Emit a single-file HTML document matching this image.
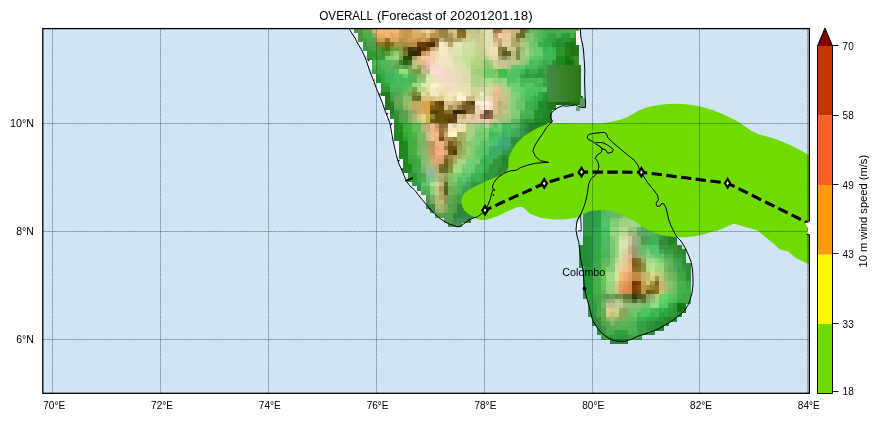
<!DOCTYPE html>
<html><head><meta charset="utf-8"><title>OVERALL forecast</title>
<style>html,body{margin:0;padding:0;background:#fff}body{width:880px;height:421px;overflow:hidden;font-family:"Liberation Sans",sans-serif}</style></head>
<body>
<svg width="880" height="421" viewBox="0 0 880 421" style="display:block;font-family:'Liberation Sans',sans-serif">
<defs><linearGradient id="dk" x1="0" x2="1" y1="0" y2="0"><stop offset="0" stop-color="#488a42"/><stop offset="0.5" stop-color="#388226"/><stop offset="1" stop-color="#2a7616"/></linearGradient><clipPath id="fc"><rect x="42.8" y="28.6" width="766.5" height="364.7"/></clipPath></defs>
<rect width="880" height="421" fill="#fff"/>
<rect x="42.8" y="28.6" width="766.5" height="364.7" fill="#cfe5f5"/>
<g clip-path="url(#fc)">
<g shape-rendering="crispEdges"><rect x="345.0" y="24.2" width="4.6" height="4.6" fill="#f2f8fd"/><rect x="349.4" y="24.2" width="4.6" height="4.6" fill="#f2f8fd"/><rect x="353.9" y="24.2" width="4.6" height="4.6" fill="#459a3e"/><rect x="358.4" y="24.2" width="4.6" height="4.6" fill="#4d9e40"/><rect x="362.9" y="24.2" width="4.6" height="4.6" fill="#63a946"/><rect x="367.4" y="24.2" width="4.6" height="4.6" fill="#68a947"/><rect x="371.9" y="24.2" width="4.6" height="4.6" fill="#ceb462"/><rect x="376.4" y="24.2" width="4.6" height="4.6" fill="#f5b86b"/><rect x="380.9" y="24.2" width="4.6" height="4.6" fill="#f5b86c"/><rect x="385.4" y="24.2" width="4.6" height="4.6" fill="#f3b56a"/><rect x="389.9" y="24.2" width="4.6" height="4.6" fill="#f0b76c"/><rect x="394.4" y="24.2" width="4.6" height="4.6" fill="#eeb66b"/><rect x="398.9" y="24.2" width="4.6" height="4.6" fill="#d6a354"/><rect x="403.3" y="24.2" width="4.6" height="4.6" fill="#ca9745"/><rect x="407.8" y="24.2" width="4.6" height="4.6" fill="#ce9d4e"/><rect x="412.3" y="24.2" width="4.6" height="4.6" fill="#ddaf65"/><rect x="416.8" y="24.2" width="4.6" height="4.6" fill="#deb167"/><rect x="421.3" y="24.2" width="4.6" height="4.6" fill="#e9c885"/><rect x="425.8" y="24.2" width="4.6" height="4.6" fill="#efd392"/><rect x="430.3" y="24.2" width="4.6" height="4.6" fill="#e3c481"/><rect x="434.8" y="24.2" width="4.6" height="4.6" fill="#c4a15a"/><rect x="439.3" y="24.2" width="4.6" height="4.6" fill="#a28743"/><rect x="443.8" y="24.2" width="4.6" height="4.6" fill="#9c8441"/><rect x="448.3" y="24.2" width="4.6" height="4.6" fill="#c6ac70"/><rect x="452.8" y="24.2" width="4.6" height="4.6" fill="#d6bc82"/><rect x="457.2" y="24.2" width="4.6" height="4.6" fill="#9d8844"/><rect x="461.7" y="24.2" width="4.6" height="4.6" fill="#8f7f39"/><rect x="466.2" y="24.2" width="4.6" height="4.6" fill="#c3bd84"/><rect x="470.7" y="24.2" width="4.6" height="4.6" fill="#c7c18a"/><rect x="475.2" y="24.2" width="4.6" height="4.6" fill="#c5bd86"/><rect x="479.7" y="24.2" width="4.6" height="4.6" fill="#d8cf9d"/><rect x="484.2" y="24.2" width="4.6" height="4.6" fill="#e7deaf"/><rect x="488.7" y="24.2" width="4.6" height="4.6" fill="#dbcd9d"/><rect x="493.2" y="24.2" width="4.6" height="4.6" fill="#9e7b44"/><rect x="497.7" y="24.2" width="4.6" height="4.6" fill="#a5814a"/><rect x="502.2" y="24.2" width="4.6" height="4.6" fill="#dcb780"/><rect x="506.7" y="24.2" width="4.6" height="4.6" fill="#ddb982"/><rect x="511.1" y="24.2" width="4.6" height="4.6" fill="#ccb179"/><rect x="515.6" y="24.2" width="4.6" height="4.6" fill="#c2aa71"/><rect x="520.1" y="24.2" width="4.6" height="4.6" fill="#8e8c4b"/><rect x="524.6" y="24.2" width="4.6" height="4.6" fill="#709d4e"/><rect x="529.1" y="24.2" width="4.6" height="4.6" fill="#63ba5f"/><rect x="533.6" y="24.2" width="4.6" height="4.6" fill="#62bb5f"/><rect x="538.1" y="24.2" width="4.6" height="4.6" fill="#4db656"/><rect x="542.6" y="24.2" width="4.6" height="4.6" fill="#3db24f"/><rect x="547.1" y="24.2" width="4.6" height="4.6" fill="#3db24e"/><rect x="551.6" y="24.2" width="4.6" height="4.6" fill="#42b04d"/><rect x="556.1" y="24.2" width="4.6" height="4.6" fill="#45b24e"/><rect x="560.6" y="24.2" width="4.6" height="4.6" fill="#45b14d"/><rect x="565.0" y="24.2" width="4.6" height="4.6" fill="#4bb04c"/><rect x="569.5" y="24.2" width="4.6" height="4.6" fill="#4eb24e"/><rect x="574.0" y="24.2" width="4.6" height="4.6" fill="#4db14d"/><rect x="349.4" y="28.7" width="4.6" height="4.6" fill="#f2f8fd"/><rect x="353.9" y="28.7" width="4.6" height="4.6" fill="#459a3e"/><rect x="358.4" y="28.7" width="4.6" height="4.6" fill="#489b3f"/><rect x="362.9" y="28.7" width="4.6" height="4.6" fill="#63a946"/><rect x="367.4" y="28.7" width="4.6" height="4.6" fill="#64a946"/><rect x="371.9" y="28.7" width="4.6" height="4.6" fill="#d7b565"/><rect x="376.4" y="28.7" width="4.6" height="4.6" fill="#f8b96b"/><rect x="380.9" y="28.7" width="4.6" height="4.6" fill="#f6b96d"/><rect x="385.4" y="28.7" width="4.6" height="4.6" fill="#f5b46a"/><rect x="389.9" y="28.7" width="4.6" height="4.6" fill="#f1b96e"/><rect x="394.4" y="28.7" width="4.6" height="4.6" fill="#f0b96e"/><rect x="398.9" y="28.7" width="4.6" height="4.6" fill="#d39f50"/><rect x="403.3" y="28.7" width="4.6" height="4.6" fill="#c99644"/><rect x="407.8" y="28.7" width="4.6" height="4.6" fill="#ca9846"/><rect x="412.3" y="28.7" width="4.6" height="4.6" fill="#dfb167"/><rect x="416.8" y="28.7" width="4.6" height="4.6" fill="#dfb167"/><rect x="421.3" y="28.7" width="4.6" height="4.6" fill="#e9c885"/><rect x="425.8" y="28.7" width="4.6" height="4.6" fill="#f1d594"/><rect x="430.3" y="28.7" width="4.6" height="4.6" fill="#d9b973"/><rect x="434.8" y="28.7" width="4.6" height="4.6" fill="#c49f56"/><rect x="439.3" y="28.7" width="4.6" height="4.6" fill="#9c833f"/><rect x="443.8" y="28.7" width="4.6" height="4.6" fill="#9a813e"/><rect x="448.3" y="28.7" width="4.6" height="4.6" fill="#d2b77d"/><rect x="452.8" y="28.7" width="4.6" height="4.6" fill="#dfc38c"/><rect x="457.2" y="28.7" width="4.6" height="4.6" fill="#7f6d23"/><rect x="461.7" y="28.7" width="4.6" height="4.6" fill="#7e6d23"/><rect x="466.2" y="28.7" width="4.6" height="4.6" fill="#c7c28b"/><rect x="470.7" y="28.7" width="4.6" height="4.6" fill="#c8c48d"/><rect x="475.2" y="28.7" width="4.6" height="4.6" fill="#c4bb84"/><rect x="479.7" y="28.7" width="4.6" height="4.6" fill="#d6ce9b"/><rect x="484.2" y="28.7" width="4.6" height="4.6" fill="#e8dfb0"/><rect x="488.7" y="28.7" width="4.6" height="4.6" fill="#e4daab"/><rect x="493.2" y="28.7" width="4.6" height="4.6" fill="#9a763e"/><rect x="497.7" y="28.7" width="4.6" height="4.6" fill="#a07c45"/><rect x="502.2" y="28.7" width="4.6" height="4.6" fill="#dfba83"/><rect x="506.7" y="28.7" width="4.6" height="4.6" fill="#dfba83"/><rect x="511.1" y="28.7" width="4.6" height="4.6" fill="#ccb17a"/><rect x="515.6" y="28.7" width="4.6" height="4.6" fill="#cbb078"/><rect x="520.1" y="28.7" width="4.6" height="4.6" fill="#686e2a"/><rect x="524.6" y="28.7" width="4.6" height="4.6" fill="#6d8b40"/><rect x="529.1" y="28.7" width="4.6" height="4.6" fill="#62bb60"/><rect x="533.6" y="28.7" width="4.6" height="4.6" fill="#62bb60"/><rect x="538.1" y="28.7" width="4.6" height="4.6" fill="#4bb755"/><rect x="542.6" y="28.7" width="4.6" height="4.6" fill="#3cb24e"/><rect x="547.1" y="28.7" width="4.6" height="4.6" fill="#3cb24e"/><rect x="551.6" y="28.7" width="4.6" height="4.6" fill="#40ae4b"/><rect x="556.1" y="28.7" width="4.6" height="4.6" fill="#45b24e"/><rect x="560.6" y="28.7" width="4.6" height="4.6" fill="#44b14d"/><rect x="565.0" y="28.7" width="4.6" height="4.6" fill="#4aaf4b"/><rect x="569.5" y="28.7" width="4.6" height="4.6" fill="#4eb24e"/><rect x="574.0" y="28.7" width="4.6" height="4.6" fill="#4eb24e"/><rect x="353.9" y="33.2" width="4.6" height="4.6" fill="#f2f8fd"/><rect x="358.4" y="33.2" width="4.6" height="4.6" fill="#469a40"/><rect x="362.9" y="33.2" width="4.6" height="4.6" fill="#5ca646"/><rect x="367.4" y="33.2" width="4.6" height="4.6" fill="#53a94e"/><rect x="371.9" y="33.2" width="4.6" height="4.6" fill="#83ac56"/><rect x="376.4" y="33.2" width="4.6" height="4.6" fill="#edb165"/><rect x="380.9" y="33.2" width="4.6" height="4.6" fill="#e6ac62"/><rect x="385.4" y="33.2" width="4.6" height="4.6" fill="#f5b469"/><rect x="389.9" y="33.2" width="4.6" height="4.6" fill="#e1aa60"/><rect x="394.4" y="33.2" width="4.6" height="4.6" fill="#e5af65"/><rect x="398.9" y="33.2" width="4.6" height="4.6" fill="#d2a154"/><rect x="403.3" y="33.2" width="4.6" height="4.6" fill="#c99644"/><rect x="407.8" y="33.2" width="4.6" height="4.6" fill="#cb9c4f"/><rect x="412.3" y="33.2" width="4.6" height="4.6" fill="#d9ab61"/><rect x="416.8" y="33.2" width="4.6" height="4.6" fill="#dbad63"/><rect x="421.3" y="33.2" width="4.6" height="4.6" fill="#cda057"/><rect x="425.8" y="33.2" width="4.6" height="4.6" fill="#e0be7b"/><rect x="430.3" y="33.2" width="4.6" height="4.6" fill="#b7944e"/><rect x="434.8" y="33.2" width="4.6" height="4.6" fill="#b5914a"/><rect x="439.3" y="33.2" width="4.6" height="4.6" fill="#9f8542"/><rect x="443.8" y="33.2" width="4.6" height="4.6" fill="#9c8644"/><rect x="448.3" y="33.2" width="4.6" height="4.6" fill="#ae995c"/><rect x="452.8" y="33.2" width="4.6" height="4.6" fill="#d2b97e"/><rect x="457.2" y="33.2" width="4.6" height="4.6" fill="#8a7931"/><rect x="461.7" y="33.2" width="4.6" height="4.6" fill="#84742b"/><rect x="466.2" y="33.2" width="4.6" height="4.6" fill="#cacc91"/><rect x="470.7" y="33.2" width="4.6" height="4.6" fill="#c9c78e"/><rect x="475.2" y="33.2" width="4.6" height="4.6" fill="#c8c78c"/><rect x="479.7" y="33.2" width="4.6" height="4.6" fill="#d0cc95"/><rect x="484.2" y="33.2" width="4.6" height="4.6" fill="#e4dfb0"/><rect x="488.7" y="33.2" width="4.6" height="4.6" fill="#e3deb0"/><rect x="493.2" y="33.2" width="4.6" height="4.6" fill="#c4a272"/><rect x="497.7" y="33.2" width="4.6" height="4.6" fill="#f1cca6"/><rect x="502.2" y="33.2" width="4.6" height="4.6" fill="#e9c699"/><rect x="506.7" y="33.2" width="4.6" height="4.6" fill="#e8cc9e"/><rect x="511.1" y="33.2" width="4.6" height="4.6" fill="#c8b27c"/><rect x="515.6" y="33.2" width="4.6" height="4.6" fill="#76742f"/><rect x="520.1" y="33.2" width="4.6" height="4.6" fill="#646b26"/><rect x="524.6" y="33.2" width="4.6" height="4.6" fill="#83bb6a"/><rect x="529.1" y="33.2" width="4.6" height="4.6" fill="#7ec26e"/><rect x="533.6" y="33.2" width="4.6" height="4.6" fill="#5cbb5d"/><rect x="538.1" y="33.2" width="4.6" height="4.6" fill="#4ebb57"/><rect x="542.6" y="33.2" width="4.6" height="4.6" fill="#3fb34f"/><rect x="547.1" y="33.2" width="4.6" height="4.6" fill="#36a643"/><rect x="551.6" y="33.2" width="4.6" height="4.6" fill="#32a03e"/><rect x="556.1" y="33.2" width="4.6" height="4.6" fill="#43b04c"/><rect x="560.6" y="33.2" width="4.6" height="4.6" fill="#319c38"/><rect x="565.0" y="33.2" width="4.6" height="4.6" fill="#2f9a36"/><rect x="569.5" y="33.2" width="4.6" height="4.6" fill="#49ad4a"/><rect x="574.0" y="33.2" width="4.6" height="4.6" fill="#3a9f3b"/><rect x="353.9" y="37.8" width="4.6" height="4.6" fill="#f2f8fd"/><rect x="358.4" y="37.8" width="4.6" height="4.6" fill="#459a40"/><rect x="362.9" y="37.8" width="4.6" height="4.6" fill="#479d43"/><rect x="367.4" y="37.8" width="4.6" height="4.6" fill="#51a94f"/><rect x="371.9" y="37.8" width="4.6" height="4.6" fill="#56a64d"/><rect x="376.4" y="37.8" width="4.6" height="4.6" fill="#c99e53"/><rect x="380.9" y="37.8" width="4.6" height="4.6" fill="#cf9f54"/><rect x="385.4" y="37.8" width="4.6" height="4.6" fill="#917227"/><rect x="389.9" y="37.8" width="4.6" height="4.6" fill="#dda75d"/><rect x="394.4" y="37.8" width="4.6" height="4.6" fill="#daa85e"/><rect x="398.9" y="37.8" width="4.6" height="4.6" fill="#b1924a"/><rect x="403.3" y="37.8" width="4.6" height="4.6" fill="#bd964c"/><rect x="407.8" y="37.8" width="4.6" height="4.6" fill="#cd9f55"/><rect x="412.3" y="37.8" width="4.6" height="4.6" fill="#cb9e55"/><rect x="416.8" y="37.8" width="4.6" height="4.6" fill="#bd914b"/><rect x="421.3" y="37.8" width="4.6" height="4.6" fill="#cd9f55"/><rect x="425.8" y="37.8" width="4.6" height="4.6" fill="#b48843"/><rect x="430.3" y="37.8" width="4.6" height="4.6" fill="#815e20"/><rect x="434.8" y="37.8" width="4.6" height="4.6" fill="#886425"/><rect x="439.3" y="37.8" width="4.6" height="4.6" fill="#c3af7c"/><rect x="443.8" y="37.8" width="4.6" height="4.6" fill="#a18f50"/><rect x="448.3" y="37.8" width="4.6" height="4.6" fill="#a18f50"/><rect x="452.8" y="37.8" width="4.6" height="4.6" fill="#b3a662"/><rect x="457.2" y="37.8" width="4.6" height="4.6" fill="#b2a561"/><rect x="461.7" y="37.8" width="4.6" height="4.6" fill="#c4c688"/><rect x="466.2" y="37.8" width="4.6" height="4.6" fill="#cdd296"/><rect x="470.7" y="37.8" width="4.6" height="4.6" fill="#ccd195"/><rect x="475.2" y="37.8" width="4.6" height="4.6" fill="#c9ca8e"/><rect x="479.7" y="37.8" width="4.6" height="4.6" fill="#cecf95"/><rect x="484.2" y="37.8" width="4.6" height="4.6" fill="#e3dfb0"/><rect x="488.7" y="37.8" width="4.6" height="4.6" fill="#e4deb0"/><rect x="493.2" y="37.8" width="4.6" height="4.6" fill="#cfb17d"/><rect x="497.7" y="37.8" width="4.6" height="4.6" fill="#c9a570"/><rect x="502.2" y="37.8" width="4.6" height="4.6" fill="#dec998"/><rect x="506.7" y="37.8" width="4.6" height="4.6" fill="#e1cb9a"/><rect x="511.1" y="37.8" width="4.6" height="4.6" fill="#b4aa6b"/><rect x="515.6" y="37.8" width="4.6" height="4.6" fill="#8e8c48"/><rect x="520.1" y="37.8" width="4.6" height="4.6" fill="#9cbb72"/><rect x="524.6" y="37.8" width="4.6" height="4.6" fill="#87c371"/><rect x="529.1" y="37.8" width="4.6" height="4.6" fill="#81c471"/><rect x="533.6" y="37.8" width="4.6" height="4.6" fill="#64c067"/><rect x="538.1" y="37.8" width="4.6" height="4.6" fill="#4ebb57"/><rect x="542.6" y="37.8" width="4.6" height="4.6" fill="#36ac49"/><rect x="547.1" y="37.8" width="4.6" height="4.6" fill="#33a23f"/><rect x="551.6" y="37.8" width="4.6" height="4.6" fill="#32a03d"/><rect x="556.1" y="37.8" width="4.6" height="4.6" fill="#24912f"/><rect x="560.6" y="37.8" width="4.6" height="4.6" fill="#2d9834"/><rect x="565.0" y="37.8" width="4.6" height="4.6" fill="#2e9934"/><rect x="569.5" y="37.8" width="4.6" height="4.6" fill="#228825"/><rect x="574.0" y="37.8" width="4.6" height="4.6" fill="#228824"/><rect x="358.4" y="42.3" width="4.6" height="4.6" fill="#f2f8fd"/><rect x="362.9" y="42.3" width="4.6" height="4.6" fill="#409a3e"/><rect x="367.4" y="42.3" width="4.6" height="4.6" fill="#4ea147"/><rect x="371.9" y="42.3" width="4.6" height="4.6" fill="#4fa046"/><rect x="376.4" y="42.3" width="4.6" height="4.6" fill="#84792f"/><rect x="380.9" y="42.3" width="4.6" height="4.6" fill="#87762d"/><rect x="385.4" y="42.3" width="4.6" height="4.6" fill="#765e14"/><rect x="389.9" y="42.3" width="4.6" height="4.6" fill="#837325"/><rect x="394.4" y="42.3" width="4.6" height="4.6" fill="#ab9348"/><rect x="398.9" y="42.3" width="4.6" height="4.6" fill="#a98e46"/><rect x="403.3" y="42.3" width="4.6" height="4.6" fill="#a28740"/><rect x="407.8" y="42.3" width="4.6" height="4.6" fill="#b28e45"/><rect x="412.3" y="42.3" width="4.6" height="4.6" fill="#b08c44"/><rect x="416.8" y="42.3" width="4.6" height="4.6" fill="#613f0c"/><rect x="421.3" y="42.3" width="4.6" height="4.6" fill="#643c05"/><rect x="425.8" y="42.3" width="4.6" height="4.6" fill="#5a3201"/><rect x="430.3" y="42.3" width="4.6" height="4.6" fill="#522c00"/><rect x="434.8" y="42.3" width="4.6" height="4.6" fill="#977a4b"/><rect x="439.3" y="42.3" width="4.6" height="4.6" fill="#f5ecc7"/><rect x="443.8" y="42.3" width="4.6" height="4.6" fill="#e6dbb1"/><rect x="448.3" y="42.3" width="4.6" height="4.6" fill="#b7aa70"/><rect x="452.8" y="42.3" width="4.6" height="4.6" fill="#e2e6b7"/><rect x="457.2" y="42.3" width="4.6" height="4.6" fill="#e3e7b9"/><rect x="461.7" y="42.3" width="4.6" height="4.6" fill="#d1dfa3"/><rect x="466.2" y="42.3" width="4.6" height="4.6" fill="#d1dea1"/><rect x="470.7" y="42.3" width="4.6" height="4.6" fill="#d1de9e"/><rect x="475.2" y="42.3" width="4.6" height="4.6" fill="#c8d291"/><rect x="479.7" y="42.3" width="4.6" height="4.6" fill="#cad293"/><rect x="484.2" y="42.3" width="4.6" height="4.6" fill="#e4ddad"/><rect x="488.7" y="42.3" width="4.6" height="4.6" fill="#e8dfb0"/><rect x="493.2" y="42.3" width="4.6" height="4.6" fill="#decd9c"/><rect x="497.7" y="42.3" width="4.6" height="4.6" fill="#c4a069"/><rect x="502.2" y="42.3" width="4.6" height="4.6" fill="#ded09d"/><rect x="506.7" y="42.3" width="4.6" height="4.6" fill="#ded09d"/><rect x="511.1" y="42.3" width="4.6" height="4.6" fill="#b2a96a"/><rect x="515.6" y="42.3" width="4.6" height="4.6" fill="#abac6a"/><rect x="520.1" y="42.3" width="4.6" height="4.6" fill="#a8cd84"/><rect x="524.6" y="42.3" width="4.6" height="4.6" fill="#a1cb80"/><rect x="529.1" y="42.3" width="4.6" height="4.6" fill="#72c472"/><rect x="533.6" y="42.3" width="4.6" height="4.6" fill="#72c472"/><rect x="538.1" y="42.3" width="4.6" height="4.6" fill="#3bae4c"/><rect x="542.6" y="42.3" width="4.6" height="4.6" fill="#32a946"/><rect x="547.1" y="42.3" width="4.6" height="4.6" fill="#32aa46"/><rect x="551.6" y="42.3" width="4.6" height="4.6" fill="#279533"/><rect x="556.1" y="42.3" width="4.6" height="4.6" fill="#228e2d"/><rect x="560.6" y="42.3" width="4.6" height="4.6" fill="#228f2d"/><rect x="565.0" y="42.3" width="4.6" height="4.6" fill="#217b19"/><rect x="569.5" y="42.3" width="4.6" height="4.6" fill="#1f7615"/><rect x="574.0" y="42.3" width="4.6" height="4.6" fill="#217e1c"/><rect x="362.9" y="46.8" width="4.6" height="4.6" fill="#39a046"/><rect x="367.4" y="46.8" width="4.6" height="4.6" fill="#3aa046"/><rect x="371.9" y="46.8" width="4.6" height="4.6" fill="#4f9e43"/><rect x="376.4" y="46.8" width="4.6" height="4.6" fill="#529935"/><rect x="380.9" y="46.8" width="4.6" height="4.6" fill="#4a801f"/><rect x="385.4" y="46.8" width="4.6" height="4.6" fill="#427615"/><rect x="389.9" y="46.8" width="4.6" height="4.6" fill="#649935"/><rect x="394.4" y="46.8" width="4.6" height="4.6" fill="#669a36"/><rect x="398.9" y="46.8" width="4.6" height="4.6" fill="#899947"/><rect x="403.3" y="46.8" width="4.6" height="4.6" fill="#696927"/><rect x="407.8" y="46.8" width="4.6" height="4.6" fill="#413304"/><rect x="412.3" y="46.8" width="4.6" height="4.6" fill="#513a0b"/><rect x="416.8" y="46.8" width="4.6" height="4.6" fill="#412700"/><rect x="421.3" y="46.8" width="4.6" height="4.6" fill="#543304"/><rect x="425.8" y="46.8" width="4.6" height="4.6" fill="#794e1a"/><rect x="430.3" y="46.8" width="4.6" height="4.6" fill="#cba575"/><rect x="434.8" y="46.8" width="4.6" height="4.6" fill="#d4bb8e"/><rect x="439.3" y="46.8" width="4.6" height="4.6" fill="#f5ecc3"/><rect x="443.8" y="46.8" width="4.6" height="4.6" fill="#f3eac1"/><rect x="448.3" y="46.8" width="4.6" height="4.6" fill="#dfdead"/><rect x="452.8" y="46.8" width="4.6" height="4.6" fill="#e0e5b3"/><rect x="457.2" y="46.8" width="4.6" height="4.6" fill="#e0e5b3"/><rect x="461.7" y="46.8" width="4.6" height="4.6" fill="#cedfa0"/><rect x="466.2" y="46.8" width="4.6" height="4.6" fill="#cedf9f"/><rect x="470.7" y="46.8" width="4.6" height="4.6" fill="#c9dd96"/><rect x="475.2" y="46.8" width="4.6" height="4.6" fill="#c4d28d"/><rect x="479.7" y="46.8" width="4.6" height="4.6" fill="#c6d390"/><rect x="484.2" y="46.8" width="4.6" height="4.6" fill="#e2ddac"/><rect x="488.7" y="46.8" width="4.6" height="4.6" fill="#ece3b8"/><rect x="493.2" y="46.8" width="4.6" height="4.6" fill="#ece3b9"/><rect x="497.7" y="46.8" width="4.6" height="4.6" fill="#828042"/><rect x="502.2" y="46.8" width="4.6" height="4.6" fill="#767638"/><rect x="506.7" y="46.8" width="4.6" height="4.6" fill="#c9c592"/><rect x="511.1" y="46.8" width="4.6" height="4.6" fill="#c8c591"/><rect x="515.6" y="46.8" width="4.6" height="4.6" fill="#888e48"/><rect x="520.1" y="46.8" width="4.6" height="4.6" fill="#9dba73"/><rect x="524.6" y="46.8" width="4.6" height="4.6" fill="#a8d18c"/><rect x="529.1" y="46.8" width="4.6" height="4.6" fill="#7cc977"/><rect x="533.6" y="46.8" width="4.6" height="4.6" fill="#68cd71"/><rect x="538.1" y="46.8" width="4.6" height="4.6" fill="#62c96c"/><rect x="542.6" y="46.8" width="4.6" height="4.6" fill="#38b14e"/><rect x="547.1" y="46.8" width="4.6" height="4.6" fill="#3bbb57"/><rect x="551.6" y="46.8" width="4.6" height="4.6" fill="#37b24e"/><rect x="556.1" y="46.8" width="4.6" height="4.6" fill="#2b9630"/><rect x="560.6" y="46.8" width="4.6" height="4.6" fill="#2c9730"/><rect x="565.0" y="46.8" width="4.6" height="4.6" fill="#237d1a"/><rect x="569.5" y="46.8" width="4.6" height="4.6" fill="#227615"/><rect x="574.0" y="46.8" width="4.6" height="4.6" fill="#237615"/><rect x="362.9" y="51.3" width="4.6" height="4.6" fill="#f2f8fd"/><rect x="367.4" y="51.3" width="4.6" height="4.6" fill="#319b39"/><rect x="371.9" y="51.3" width="4.6" height="4.6" fill="#379a37"/><rect x="376.4" y="51.3" width="4.6" height="4.6" fill="#499934"/><rect x="380.9" y="51.3" width="4.6" height="4.6" fill="#3c952e"/><rect x="385.4" y="51.3" width="4.6" height="4.6" fill="#5e9c3b"/><rect x="389.9" y="51.3" width="4.6" height="4.6" fill="#79bb5b"/><rect x="394.4" y="51.3" width="4.6" height="4.6" fill="#92cb74"/><rect x="398.9" y="51.3" width="4.6" height="4.6" fill="#8aa14e"/><rect x="403.3" y="51.3" width="4.6" height="4.6" fill="#6a7b31"/><rect x="407.8" y="51.3" width="4.6" height="4.6" fill="#383004"/><rect x="412.3" y="51.3" width="4.6" height="4.6" fill="#302602"/><rect x="416.8" y="51.3" width="4.6" height="4.6" fill="#412801"/><rect x="421.3" y="51.3" width="4.6" height="4.6" fill="#ca9761"/><rect x="425.8" y="51.3" width="4.6" height="4.6" fill="#dea972"/><rect x="430.3" y="51.3" width="4.6" height="4.6" fill="#fad4a6"/><rect x="434.8" y="51.3" width="4.6" height="4.6" fill="#f3dbb0"/><rect x="439.3" y="51.3" width="4.6" height="4.6" fill="#f5ecc2"/><rect x="443.8" y="51.3" width="4.6" height="4.6" fill="#f4eac2"/><rect x="448.3" y="51.3" width="4.6" height="4.6" fill="#e3e3b4"/><rect x="452.8" y="51.3" width="4.6" height="4.6" fill="#dee3b0"/><rect x="457.2" y="51.3" width="4.6" height="4.6" fill="#dee3b0"/><rect x="461.7" y="51.3" width="4.6" height="4.6" fill="#ccdf9e"/><rect x="466.2" y="51.3" width="4.6" height="4.6" fill="#ccdf9d"/><rect x="470.7" y="51.3" width="4.6" height="4.6" fill="#c8df95"/><rect x="475.2" y="51.3" width="4.6" height="4.6" fill="#c4d38d"/><rect x="479.7" y="51.3" width="4.6" height="4.6" fill="#c3d38d"/><rect x="484.2" y="51.3" width="4.6" height="4.6" fill="#d9daa4"/><rect x="488.7" y="51.3" width="4.6" height="4.6" fill="#e8e1b4"/><rect x="493.2" y="51.3" width="4.6" height="4.6" fill="#e9e0b4"/><rect x="497.7" y="51.3" width="4.6" height="4.6" fill="#8a884c"/><rect x="502.2" y="51.3" width="4.6" height="4.6" fill="#5c5c20"/><rect x="506.7" y="51.3" width="4.6" height="4.6" fill="#656429"/><rect x="511.1" y="51.3" width="4.6" height="4.6" fill="#b9b881"/><rect x="515.6" y="51.3" width="4.6" height="4.6" fill="#7c8c44"/><rect x="520.1" y="51.3" width="4.6" height="4.6" fill="#9fc881"/><rect x="524.6" y="51.3" width="4.6" height="4.6" fill="#a8d18c"/><rect x="529.1" y="51.3" width="4.6" height="4.6" fill="#7fcd7a"/><rect x="533.6" y="51.3" width="4.6" height="4.6" fill="#68cd71"/><rect x="538.1" y="51.3" width="4.6" height="4.6" fill="#66cc70"/><rect x="542.6" y="51.3" width="4.6" height="4.6" fill="#3ebc58"/><rect x="547.1" y="51.3" width="4.6" height="4.6" fill="#3cbb57"/><rect x="551.6" y="51.3" width="4.6" height="4.6" fill="#3ab753"/><rect x="556.1" y="51.3" width="4.6" height="4.6" fill="#2c9731"/><rect x="560.6" y="51.3" width="4.6" height="4.6" fill="#2c9731"/><rect x="565.0" y="51.3" width="4.6" height="4.6" fill="#26821f"/><rect x="569.5" y="51.3" width="4.6" height="4.6" fill="#247615"/><rect x="574.0" y="51.3" width="4.6" height="4.6" fill="#257615"/><rect x="367.4" y="55.8" width="4.6" height="4.6" fill="#2e9a35"/><rect x="371.9" y="55.8" width="4.6" height="4.6" fill="#329e38"/><rect x="376.4" y="55.8" width="4.6" height="4.6" fill="#339a31"/><rect x="380.9" y="55.8" width="4.6" height="4.6" fill="#349a31"/><rect x="385.4" y="55.8" width="4.6" height="4.6" fill="#7ecb6c"/><rect x="389.9" y="55.8" width="4.6" height="4.6" fill="#85cf71"/><rect x="394.4" y="55.8" width="4.6" height="4.6" fill="#99d883"/><rect x="398.9" y="55.8" width="4.6" height="4.6" fill="#6fa654"/><rect x="403.3" y="55.8" width="4.6" height="4.6" fill="#254e07"/><rect x="407.8" y="55.8" width="4.6" height="4.6" fill="#304407"/><rect x="412.3" y="55.8" width="4.6" height="4.6" fill="#ac9762"/><rect x="416.8" y="55.8" width="4.6" height="4.6" fill="#d5b983"/><rect x="421.3" y="55.8" width="4.6" height="4.6" fill="#f9cba5"/><rect x="425.8" y="55.8" width="4.6" height="4.6" fill="#f8caab"/><rect x="430.3" y="55.8" width="4.6" height="4.6" fill="#facbaf"/><rect x="434.8" y="55.8" width="4.6" height="4.6" fill="#f3d9b5"/><rect x="439.3" y="55.8" width="4.6" height="4.6" fill="#f1e8c2"/><rect x="443.8" y="55.8" width="4.6" height="4.6" fill="#f1e8c2"/><rect x="448.3" y="55.8" width="4.6" height="4.6" fill="#e6e3b8"/><rect x="452.8" y="55.8" width="4.6" height="4.6" fill="#d6dfa8"/><rect x="457.2" y="55.8" width="4.6" height="4.6" fill="#d6dfa7"/><rect x="461.7" y="55.8" width="4.6" height="4.6" fill="#c8df9a"/><rect x="466.2" y="55.8" width="4.6" height="4.6" fill="#c7df99"/><rect x="470.7" y="55.8" width="4.6" height="4.6" fill="#bfdf8c"/><rect x="475.2" y="55.8" width="4.6" height="4.6" fill="#bfcd88"/><rect x="479.7" y="55.8" width="4.6" height="4.6" fill="#bed088"/><rect x="484.2" y="55.8" width="4.6" height="4.6" fill="#bfd491"/><rect x="488.7" y="55.8" width="4.6" height="4.6" fill="#dedaa7"/><rect x="493.2" y="55.8" width="4.6" height="4.6" fill="#dfdaa7"/><rect x="497.7" y="55.8" width="4.6" height="4.6" fill="#aaa66b"/><rect x="502.2" y="55.8" width="4.6" height="4.6" fill="#8f8c51"/><rect x="506.7" y="55.8" width="4.6" height="4.6" fill="#a6a66d"/><rect x="511.1" y="55.8" width="4.6" height="4.6" fill="#bdbf86"/><rect x="515.6" y="55.8" width="4.6" height="4.6" fill="#778941"/><rect x="520.1" y="55.8" width="4.6" height="4.6" fill="#96cd83"/><rect x="524.6" y="55.8" width="4.6" height="4.6" fill="#97cc83"/><rect x="529.1" y="55.8" width="4.6" height="4.6" fill="#60c56c"/><rect x="533.6" y="55.8" width="4.6" height="4.6" fill="#56c469"/><rect x="538.1" y="55.8" width="4.6" height="4.6" fill="#56c468"/><rect x="542.6" y="55.8" width="4.6" height="4.6" fill="#3dbb57"/><rect x="547.1" y="55.8" width="4.6" height="4.6" fill="#3cbb57"/><rect x="551.6" y="55.8" width="4.6" height="4.6" fill="#38b550"/><rect x="556.1" y="55.8" width="4.6" height="4.6" fill="#1f891d"/><rect x="560.6" y="55.8" width="4.6" height="4.6" fill="#20891f"/><rect x="565.0" y="55.8" width="4.6" height="4.6" fill="#177910"/><rect x="569.5" y="55.8" width="4.6" height="4.6" fill="#2f8020"/><rect x="574.0" y="55.8" width="4.6" height="4.6" fill="#41882d"/><rect x="367.4" y="60.3" width="4.6" height="4.6" fill="#f2f8fd"/><rect x="371.9" y="60.3" width="4.6" height="4.6" fill="#45bb4e"/><rect x="376.4" y="60.3" width="4.6" height="4.6" fill="#44b44a"/><rect x="380.9" y="60.3" width="4.6" height="4.6" fill="#4ebb57"/><rect x="385.4" y="60.3" width="4.6" height="4.6" fill="#4fbb57"/><rect x="389.9" y="60.3" width="4.6" height="4.6" fill="#62bb60"/><rect x="394.4" y="60.3" width="4.6" height="4.6" fill="#62b358"/><rect x="398.9" y="60.3" width="4.6" height="4.6" fill="#447c28"/><rect x="403.3" y="60.3" width="4.6" height="4.6" fill="#2d6212"/><rect x="407.8" y="60.3" width="4.6" height="4.6" fill="#476b22"/><rect x="412.3" y="60.3" width="4.6" height="4.6" fill="#c4c184"/><rect x="416.8" y="60.3" width="4.6" height="4.6" fill="#d7c089"/><rect x="421.3" y="60.3" width="4.6" height="4.6" fill="#e6bc97"/><rect x="425.8" y="60.3" width="4.6" height="4.6" fill="#f1c6a7"/><rect x="430.3" y="60.3" width="4.6" height="4.6" fill="#fad0b9"/><rect x="434.8" y="60.3" width="4.6" height="4.6" fill="#f7d7c1"/><rect x="439.3" y="60.3" width="4.6" height="4.6" fill="#f1e6c2"/><rect x="443.8" y="60.3" width="4.6" height="4.6" fill="#f1e4c2"/><rect x="448.3" y="60.3" width="4.6" height="4.6" fill="#f0e3c2"/><rect x="452.8" y="60.3" width="4.6" height="4.6" fill="#d9e0ac"/><rect x="457.2" y="60.3" width="4.6" height="4.6" fill="#d9e3af"/><rect x="461.7" y="60.3" width="4.6" height="4.6" fill="#cfe1a3"/><rect x="466.2" y="60.3" width="4.6" height="4.6" fill="#c7df99"/><rect x="470.7" y="60.3" width="4.6" height="4.6" fill="#b2d781"/><rect x="475.2" y="60.3" width="4.6" height="4.6" fill="#b3d381"/><rect x="479.7" y="60.3" width="4.6" height="4.6" fill="#b0d181"/><rect x="484.2" y="60.3" width="4.6" height="4.6" fill="#8fcd73"/><rect x="488.7" y="60.3" width="4.6" height="4.6" fill="#9ece7c"/><rect x="493.2" y="60.3" width="4.6" height="4.6" fill="#cdcd96"/><rect x="497.7" y="60.3" width="4.6" height="4.6" fill="#c7c696"/><rect x="502.2" y="60.3" width="4.6" height="4.6" fill="#c2c391"/><rect x="506.7" y="60.3" width="4.6" height="4.6" fill="#b3c485"/><rect x="511.1" y="60.3" width="4.6" height="4.6" fill="#bbc38a"/><rect x="515.6" y="60.3" width="4.6" height="4.6" fill="#bac48d"/><rect x="520.1" y="60.3" width="4.6" height="4.6" fill="#9cc782"/><rect x="524.6" y="60.3" width="4.6" height="4.6" fill="#84c678"/><rect x="529.1" y="60.3" width="4.6" height="4.6" fill="#47bc59"/><rect x="533.6" y="60.3" width="4.6" height="4.6" fill="#4dbf5f"/><rect x="538.1" y="60.3" width="4.6" height="4.6" fill="#4ab859"/><rect x="542.6" y="60.3" width="4.6" height="4.6" fill="#3daa47"/><rect x="547.1" y="60.3" width="4.6" height="4.6" fill="#3cb352"/><rect x="551.6" y="60.3" width="4.6" height="4.6" fill="#329336"/><rect x="556.1" y="60.3" width="4.6" height="4.6" fill="#1e881c"/><rect x="560.6" y="60.3" width="4.6" height="4.6" fill="#1f861a"/><rect x="565.0" y="60.3" width="4.6" height="4.6" fill="#12760c"/><rect x="569.5" y="60.3" width="4.6" height="4.6" fill="#15770e"/><rect x="574.0" y="60.3" width="4.6" height="4.6" fill="#40872c"/><rect x="367.4" y="64.8" width="4.6" height="4.6" fill="#f2f8fd"/><rect x="371.9" y="64.8" width="4.6" height="4.6" fill="#44ba4d"/><rect x="376.4" y="64.8" width="4.6" height="4.6" fill="#40ab41"/><rect x="380.9" y="64.8" width="4.6" height="4.6" fill="#4cb954"/><rect x="385.4" y="64.8" width="4.6" height="4.6" fill="#4fb75b"/><rect x="389.9" y="64.8" width="4.6" height="4.6" fill="#54b45f"/><rect x="394.4" y="64.8" width="4.6" height="4.6" fill="#61a349"/><rect x="398.9" y="64.8" width="4.6" height="4.6" fill="#67a74d"/><rect x="403.3" y="64.8" width="4.6" height="4.6" fill="#54a240"/><rect x="407.8" y="64.8" width="4.6" height="4.6" fill="#69a94e"/><rect x="412.3" y="64.8" width="4.6" height="4.6" fill="#bac483"/><rect x="416.8" y="64.8" width="4.6" height="4.6" fill="#98a95e"/><rect x="421.3" y="64.8" width="4.6" height="4.6" fill="#cda884"/><rect x="425.8" y="64.8" width="4.6" height="4.6" fill="#dfbea1"/><rect x="430.3" y="64.8" width="4.6" height="4.6" fill="#fad9cb"/><rect x="434.8" y="64.8" width="4.6" height="4.6" fill="#f9dbce"/><rect x="439.3" y="64.8" width="4.6" height="4.6" fill="#f3e0c6"/><rect x="443.8" y="64.8" width="4.6" height="4.6" fill="#f1e3c2"/><rect x="448.3" y="64.8" width="4.6" height="4.6" fill="#f1e2c2"/><rect x="452.8" y="64.8" width="4.6" height="4.6" fill="#e7dfba"/><rect x="457.2" y="64.8" width="4.6" height="4.6" fill="#dae3b0"/><rect x="461.7" y="64.8" width="4.6" height="4.6" fill="#d5e1a9"/><rect x="466.2" y="64.8" width="4.6" height="4.6" fill="#c8df9a"/><rect x="470.7" y="64.8" width="4.6" height="4.6" fill="#abd57c"/><rect x="475.2" y="64.8" width="4.6" height="4.6" fill="#b2d281"/><rect x="479.7" y="64.8" width="4.6" height="4.6" fill="#a7d27b"/><rect x="484.2" y="64.8" width="4.6" height="4.6" fill="#8dcd71"/><rect x="488.7" y="64.8" width="4.6" height="4.6" fill="#8ecd72"/><rect x="493.2" y="64.8" width="4.6" height="4.6" fill="#cacd95"/><rect x="497.7" y="64.8" width="4.6" height="4.6" fill="#c1cb96"/><rect x="502.2" y="64.8" width="4.6" height="4.6" fill="#b9c88e"/><rect x="506.7" y="64.8" width="4.6" height="4.6" fill="#b1c484"/><rect x="511.1" y="64.8" width="4.6" height="4.6" fill="#68c46c"/><rect x="515.6" y="64.8" width="4.6" height="4.6" fill="#57c469"/><rect x="520.1" y="64.8" width="4.6" height="4.6" fill="#64c36d"/><rect x="524.6" y="64.8" width="4.6" height="4.6" fill="#51ba5c"/><rect x="529.1" y="64.8" width="4.6" height="4.6" fill="#45bb57"/><rect x="533.6" y="64.8" width="4.6" height="4.6" fill="#45bb57"/><rect x="538.1" y="64.8" width="4.6" height="4.6" fill="#3eab48"/><rect x="542.6" y="64.8" width="4.6" height="4.6" fill="#3da946"/><rect x="547.1" y="64.8" width="4.6" height="4.6" fill="#408e40"/><rect x="551.6" y="64.8" width="4.6" height="4.6" fill="#41883f"/><rect x="556.1" y="64.8" width="4.6" height="4.6" fill="#30882c"/><rect x="560.6" y="64.8" width="4.6" height="4.6" fill="#2f871c"/><rect x="565.0" y="64.8" width="4.6" height="4.6" fill="#2f871b"/><rect x="569.5" y="64.8" width="4.6" height="4.6" fill="#1c7a11"/><rect x="574.0" y="64.8" width="4.6" height="4.6" fill="#247612"/><rect x="371.9" y="69.3" width="4.6" height="4.6" fill="#3fa93f"/><rect x="376.4" y="69.3" width="4.6" height="4.6" fill="#3fa93f"/><rect x="380.9" y="69.3" width="4.6" height="4.6" fill="#40aa43"/><rect x="385.4" y="69.3" width="4.6" height="4.6" fill="#4eb260"/><rect x="389.9" y="69.3" width="4.6" height="4.6" fill="#4eb261"/><rect x="394.4" y="69.3" width="4.6" height="4.6" fill="#5db761"/><rect x="398.9" y="69.3" width="4.6" height="4.6" fill="#96de82"/><rect x="403.3" y="69.3" width="4.6" height="4.6" fill="#96dd81"/><rect x="407.8" y="69.3" width="4.6" height="4.6" fill="#73b257"/><rect x="412.3" y="69.3" width="4.6" height="4.6" fill="#78a046"/><rect x="416.8" y="69.3" width="4.6" height="4.6" fill="#769a3e"/><rect x="421.3" y="69.3" width="4.6" height="4.6" fill="#c2ba8b"/><rect x="425.8" y="69.3" width="4.6" height="4.6" fill="#c5bb8e"/><rect x="430.3" y="69.3" width="4.6" height="4.6" fill="#f9ddd3"/><rect x="434.8" y="69.3" width="4.6" height="4.6" fill="#faded4"/><rect x="439.3" y="69.3" width="4.6" height="4.6" fill="#f7ddcf"/><rect x="443.8" y="69.3" width="4.6" height="4.6" fill="#f1dcc2"/><rect x="448.3" y="69.3" width="4.6" height="4.6" fill="#f1dac2"/><rect x="452.8" y="69.3" width="4.6" height="4.6" fill="#f0dac2"/><rect x="457.2" y="69.3" width="4.6" height="4.6" fill="#dfdfb1"/><rect x="461.7" y="69.3" width="4.6" height="4.6" fill="#dfdfb1"/><rect x="466.2" y="69.3" width="4.6" height="4.6" fill="#d8deaa"/><rect x="470.7" y="69.3" width="4.6" height="4.6" fill="#a2d279"/><rect x="475.2" y="69.3" width="4.6" height="4.6" fill="#97d272"/><rect x="479.7" y="69.3" width="4.6" height="4.6" fill="#9cd176"/><rect x="484.2" y="69.3" width="4.6" height="4.6" fill="#74cd69"/><rect x="488.7" y="69.3" width="4.6" height="4.6" fill="#73cd69"/><rect x="493.2" y="69.3" width="4.6" height="4.6" fill="#76c668"/><rect x="497.7" y="69.3" width="4.6" height="4.6" fill="#45bb4e"/><rect x="502.2" y="69.3" width="4.6" height="4.6" fill="#46bb4e"/><rect x="506.7" y="69.3" width="4.6" height="4.6" fill="#63c366"/><rect x="511.1" y="69.3" width="4.6" height="4.6" fill="#4dc45f"/><rect x="515.6" y="69.3" width="4.6" height="4.6" fill="#4ec460"/><rect x="520.1" y="69.3" width="4.6" height="4.6" fill="#46b354"/><rect x="524.6" y="69.3" width="4.6" height="4.6" fill="#2fa13f"/><rect x="529.1" y="69.3" width="4.6" height="4.6" fill="#3aae4b"/><rect x="533.6" y="69.3" width="4.6" height="4.6" fill="#3aab49"/><rect x="538.1" y="69.3" width="4.6" height="4.6" fill="#309b3b"/><rect x="542.6" y="69.3" width="4.6" height="4.6" fill="#3aa342"/><rect x="547.1" y="69.3" width="4.6" height="4.6" fill="#418a3c"/><rect x="551.6" y="69.3" width="4.6" height="4.6" fill="#41873c"/><rect x="556.1" y="69.3" width="4.6" height="4.6" fill="#3b8631"/><rect x="560.6" y="69.3" width="4.6" height="4.6" fill="#30851c"/><rect x="565.0" y="69.3" width="4.6" height="4.6" fill="#2f851c"/><rect x="569.5" y="69.3" width="4.6" height="4.6" fill="#287d17"/><rect x="574.0" y="69.3" width="4.6" height="4.6" fill="#247612"/><rect x="371.9" y="73.8" width="4.6" height="4.6" fill="#f2f8fd"/><rect x="376.4" y="73.8" width="4.6" height="4.6" fill="#239b2d"/><rect x="380.9" y="73.8" width="4.6" height="4.6" fill="#33a845"/><rect x="385.4" y="73.8" width="4.6" height="4.6" fill="#3db258"/><rect x="389.9" y="73.8" width="4.6" height="4.6" fill="#46b25c"/><rect x="394.4" y="73.8" width="4.6" height="4.6" fill="#48bb60"/><rect x="398.9" y="73.8" width="4.6" height="4.6" fill="#48bc61"/><rect x="403.3" y="73.8" width="4.6" height="4.6" fill="#70c76c"/><rect x="407.8" y="73.8" width="4.6" height="4.6" fill="#55b258"/><rect x="412.3" y="73.8" width="4.6" height="4.6" fill="#5bb157"/><rect x="416.8" y="73.8" width="4.6" height="4.6" fill="#86ba68"/><rect x="421.3" y="73.8" width="4.6" height="4.6" fill="#8fbc6e"/><rect x="425.8" y="73.8" width="4.6" height="4.6" fill="#d9dfa9"/><rect x="430.3" y="73.8" width="4.6" height="4.6" fill="#e7e2bb"/><rect x="434.8" y="73.8" width="4.6" height="4.6" fill="#f6dac9"/><rect x="439.3" y="73.8" width="4.6" height="4.6" fill="#f5dac7"/><rect x="443.8" y="73.8" width="4.6" height="4.6" fill="#f1dac3"/><rect x="448.3" y="73.8" width="4.6" height="4.6" fill="#efdac1"/><rect x="452.8" y="73.8" width="4.6" height="4.6" fill="#eddabe"/><rect x="457.2" y="73.8" width="4.6" height="4.6" fill="#e7dbb9"/><rect x="461.7" y="73.8" width="4.6" height="4.6" fill="#dcdcaa"/><rect x="466.2" y="73.8" width="4.6" height="4.6" fill="#dadaa7"/><rect x="470.7" y="73.8" width="4.6" height="4.6" fill="#aed283"/><rect x="475.2" y="73.8" width="4.6" height="4.6" fill="#add281"/><rect x="479.7" y="73.8" width="4.6" height="4.6" fill="#a3d27d"/><rect x="484.2" y="73.8" width="4.6" height="4.6" fill="#74ce6a"/><rect x="488.7" y="73.8" width="4.6" height="4.6" fill="#72cd68"/><rect x="493.2" y="73.8" width="4.6" height="4.6" fill="#7dcc6e"/><rect x="497.7" y="73.8" width="4.6" height="4.6" fill="#4dbe53"/><rect x="502.2" y="73.8" width="4.6" height="4.6" fill="#4abd51"/><rect x="506.7" y="73.8" width="4.6" height="4.6" fill="#56c461"/><rect x="511.1" y="73.8" width="4.6" height="4.6" fill="#4fc460"/><rect x="515.6" y="73.8" width="4.6" height="4.6" fill="#4fc35f"/><rect x="520.1" y="73.8" width="4.6" height="4.6" fill="#35a845"/><rect x="524.6" y="73.8" width="4.6" height="4.6" fill="#2ea03e"/><rect x="529.1" y="73.8" width="4.6" height="4.6" fill="#2fa13f"/><rect x="533.6" y="73.8" width="4.6" height="4.6" fill="#309c3b"/><rect x="538.1" y="73.8" width="4.6" height="4.6" fill="#2e9a3a"/><rect x="542.6" y="73.8" width="4.6" height="4.6" fill="#329b3c"/><rect x="547.1" y="73.8" width="4.6" height="4.6" fill="#418636"/><rect x="551.6" y="73.8" width="4.6" height="4.6" fill="#418536"/><rect x="556.1" y="73.8" width="4.6" height="4.6" fill="#3c842f"/><rect x="560.6" y="73.8" width="4.6" height="4.6" fill="#30811c"/><rect x="565.0" y="73.8" width="4.6" height="4.6" fill="#30811c"/><rect x="569.5" y="73.8" width="4.6" height="4.6" fill="#2a7b17"/><rect x="574.0" y="73.8" width="4.6" height="4.6" fill="#247612"/><rect x="371.9" y="78.3" width="4.6" height="4.6" fill="#f2f8fd"/><rect x="376.4" y="78.3" width="4.6" height="4.6" fill="#219a2c"/><rect x="380.9" y="78.3" width="4.6" height="4.6" fill="#31a744"/><rect x="385.4" y="78.3" width="4.6" height="4.6" fill="#3cb257"/><rect x="389.9" y="78.3" width="4.6" height="4.6" fill="#3eb358"/><rect x="394.4" y="78.3" width="4.6" height="4.6" fill="#45bb60"/><rect x="398.9" y="78.3" width="4.6" height="4.6" fill="#45bb60"/><rect x="403.3" y="78.3" width="4.6" height="4.6" fill="#4db95e"/><rect x="407.8" y="78.3" width="4.6" height="4.6" fill="#51b258"/><rect x="412.3" y="78.3" width="4.6" height="4.6" fill="#56b55a"/><rect x="416.8" y="78.3" width="4.6" height="4.6" fill="#8bc36f"/><rect x="421.3" y="78.3" width="4.6" height="4.6" fill="#9ac578"/><rect x="425.8" y="78.3" width="4.6" height="4.6" fill="#dee8b0"/><rect x="430.3" y="78.3" width="4.6" height="4.6" fill="#e1e7b2"/><rect x="434.8" y="78.3" width="4.6" height="4.6" fill="#f5dac7"/><rect x="439.3" y="78.3" width="4.6" height="4.6" fill="#f5dac7"/><rect x="443.8" y="78.3" width="4.6" height="4.6" fill="#f1ddc2"/><rect x="448.3" y="78.3" width="4.6" height="4.6" fill="#eddbbe"/><rect x="452.8" y="78.3" width="4.6" height="4.6" fill="#ecdabe"/><rect x="457.2" y="78.3" width="4.6" height="4.6" fill="#eadabb"/><rect x="461.7" y="78.3" width="4.6" height="4.6" fill="#dbdba8"/><rect x="466.2" y="78.3" width="4.6" height="4.6" fill="#dadaa8"/><rect x="470.7" y="78.3" width="4.6" height="4.6" fill="#b3d288"/><rect x="475.2" y="78.3" width="4.6" height="4.6" fill="#abd282"/><rect x="479.7" y="78.3" width="4.6" height="4.6" fill="#b3d389"/><rect x="484.2" y="78.3" width="4.6" height="4.6" fill="#a8df8c"/><rect x="488.7" y="78.3" width="4.6" height="4.6" fill="#b2db8d"/><rect x="493.2" y="78.3" width="4.6" height="4.6" fill="#9fd180"/><rect x="497.7" y="78.3" width="4.6" height="4.6" fill="#84d67a"/><rect x="502.2" y="78.3" width="4.6" height="4.6" fill="#9ed17f"/><rect x="506.7" y="78.3" width="4.6" height="4.6" fill="#4fc460"/><rect x="511.1" y="78.3" width="4.6" height="4.6" fill="#4fc561"/><rect x="515.6" y="78.3" width="4.6" height="4.6" fill="#62c869"/><rect x="520.1" y="78.3" width="4.6" height="4.6" fill="#45bb57"/><rect x="524.6" y="78.3" width="4.6" height="4.6" fill="#45ba57"/><rect x="529.1" y="78.3" width="4.6" height="4.6" fill="#48b859"/><rect x="533.6" y="78.3" width="4.6" height="4.6" fill="#48b653"/><rect x="538.1" y="78.3" width="4.6" height="4.6" fill="#4dbb56"/><rect x="542.6" y="78.3" width="4.6" height="4.6" fill="#3aa947"/><rect x="547.1" y="78.3" width="4.6" height="4.6" fill="#3c8c38"/><rect x="551.6" y="78.3" width="4.6" height="4.6" fill="#3f8836"/><rect x="556.1" y="78.3" width="4.6" height="4.6" fill="#327f19"/><rect x="560.6" y="78.3" width="4.6" height="4.6" fill="#30811c"/><rect x="565.0" y="78.3" width="4.6" height="4.6" fill="#30811c"/><rect x="569.5" y="78.3" width="4.6" height="4.6" fill="#277913"/><rect x="574.0" y="78.3" width="4.6" height="4.6" fill="#247612"/><rect x="376.4" y="82.8" width="4.6" height="4.6" fill="#f2f8fd"/><rect x="380.9" y="82.8" width="4.6" height="4.6" fill="#2ea035"/><rect x="385.4" y="82.8" width="4.6" height="4.6" fill="#36a644"/><rect x="389.9" y="82.8" width="4.6" height="4.6" fill="#45bb60"/><rect x="394.4" y="82.8" width="4.6" height="4.6" fill="#45ba5f"/><rect x="398.9" y="82.8" width="4.6" height="4.6" fill="#4cb95e"/><rect x="403.3" y="82.8" width="4.6" height="4.6" fill="#4ebb60"/><rect x="407.8" y="82.8" width="4.6" height="4.6" fill="#52bb60"/><rect x="412.3" y="82.8" width="4.6" height="4.6" fill="#94dc80"/><rect x="416.8" y="82.8" width="4.6" height="4.6" fill="#97df82"/><rect x="421.3" y="82.8" width="4.6" height="4.6" fill="#dceca5"/><rect x="425.8" y="82.8" width="4.6" height="4.6" fill="#deeca7"/><rect x="430.3" y="82.8" width="4.6" height="4.6" fill="#f8f0c9"/><rect x="434.8" y="82.8" width="4.6" height="4.6" fill="#faf0cb"/><rect x="439.3" y="82.8" width="4.6" height="4.6" fill="#f5e5c3"/><rect x="443.8" y="82.8" width="4.6" height="4.6" fill="#f0e2be"/><rect x="448.3" y="82.8" width="4.6" height="4.6" fill="#f1e3c2"/><rect x="452.8" y="82.8" width="4.6" height="4.6" fill="#f0e2c1"/><rect x="457.2" y="82.8" width="4.6" height="4.6" fill="#e8dfb7"/><rect x="461.7" y="82.8" width="4.6" height="4.6" fill="#e3dfb0"/><rect x="466.2" y="82.8" width="4.6" height="4.6" fill="#e3dfb0"/><rect x="470.7" y="82.8" width="4.6" height="4.6" fill="#bad38c"/><rect x="475.2" y="82.8" width="4.6" height="4.6" fill="#b3d285"/><rect x="479.7" y="82.8" width="4.6" height="4.6" fill="#bbd28d"/><rect x="484.2" y="82.8" width="4.6" height="4.6" fill="#bbd890"/><rect x="488.7" y="82.8" width="4.6" height="4.6" fill="#cdd695"/><rect x="493.2" y="82.8" width="4.6" height="4.6" fill="#dfc38c"/><rect x="497.7" y="82.8" width="4.6" height="4.6" fill="#9fd180"/><rect x="502.2" y="82.8" width="4.6" height="4.6" fill="#a8d283"/><rect x="506.7" y="82.8" width="4.6" height="4.6" fill="#64c768"/><rect x="511.1" y="82.8" width="4.6" height="4.6" fill="#70cd70"/><rect x="515.6" y="82.8" width="4.6" height="4.6" fill="#70cd71"/><rect x="520.1" y="82.8" width="4.6" height="4.6" fill="#47bc59"/><rect x="524.6" y="82.8" width="4.6" height="4.6" fill="#56c468"/><rect x="529.1" y="82.8" width="4.6" height="4.6" fill="#55c467"/><rect x="533.6" y="82.8" width="4.6" height="4.6" fill="#44b753"/><rect x="538.1" y="82.8" width="4.6" height="4.6" fill="#3db24f"/><rect x="542.6" y="82.8" width="4.6" height="4.6" fill="#2fa13e"/><rect x="547.1" y="82.8" width="4.6" height="4.6" fill="#2f9f3d"/><rect x="551.6" y="82.8" width="4.6" height="4.6" fill="#3e8834"/><rect x="556.1" y="82.8" width="4.6" height="4.6" fill="#2e7c10"/><rect x="560.6" y="82.8" width="4.6" height="4.6" fill="#2f7e13"/><rect x="565.0" y="82.8" width="4.6" height="4.6" fill="#30811c"/><rect x="569.5" y="82.8" width="4.6" height="4.6" fill="#24760f"/><rect x="574.0" y="82.8" width="4.6" height="4.6" fill="#24760e"/><rect x="376.4" y="87.3" width="4.6" height="4.6" fill="#f2f8fd"/><rect x="380.9" y="87.3" width="4.6" height="4.6" fill="#2d992f"/><rect x="385.4" y="87.3" width="4.6" height="4.6" fill="#2e952b"/><rect x="389.9" y="87.3" width="4.6" height="4.6" fill="#45b75b"/><rect x="394.4" y="87.3" width="4.6" height="4.6" fill="#4eb257"/><rect x="398.9" y="87.3" width="4.6" height="4.6" fill="#51b358"/><rect x="403.3" y="87.3" width="4.6" height="4.6" fill="#58bb60"/><rect x="407.8" y="87.3" width="4.6" height="4.6" fill="#72bb5f"/><rect x="412.3" y="87.3" width="4.6" height="4.6" fill="#7b9e44"/><rect x="416.8" y="87.3" width="4.6" height="4.6" fill="#b2d688"/><rect x="421.3" y="87.3" width="4.6" height="4.6" fill="#bed78e"/><rect x="425.8" y="87.3" width="4.6" height="4.6" fill="#dbe8a3"/><rect x="430.3" y="87.3" width="4.6" height="4.6" fill="#f6ecc1"/><rect x="434.8" y="87.3" width="4.6" height="4.6" fill="#f2e4b3"/><rect x="439.3" y="87.3" width="4.6" height="4.6" fill="#f2e4b4"/><rect x="443.8" y="87.3" width="4.6" height="4.6" fill="#eddfb3"/><rect x="448.3" y="87.3" width="4.6" height="4.6" fill="#ede0b4"/><rect x="452.8" y="87.3" width="4.6" height="4.6" fill="#f0e3bf"/><rect x="457.2" y="87.3" width="4.6" height="4.6" fill="#eae3b8"/><rect x="461.7" y="87.3" width="4.6" height="4.6" fill="#e8e3b5"/><rect x="466.2" y="87.3" width="4.6" height="4.6" fill="#e5e1b2"/><rect x="470.7" y="87.3" width="4.6" height="4.6" fill="#c9d694"/><rect x="475.2" y="87.3" width="4.6" height="4.6" fill="#c9d694"/><rect x="479.7" y="87.3" width="4.6" height="4.6" fill="#cddb9f"/><rect x="484.2" y="87.3" width="4.6" height="4.6" fill="#d9e0a4"/><rect x="488.7" y="87.3" width="4.6" height="4.6" fill="#d5d99d"/><rect x="493.2" y="87.3" width="4.6" height="4.6" fill="#eec29b"/><rect x="497.7" y="87.3" width="4.6" height="4.6" fill="#dbc58d"/><rect x="502.2" y="87.3" width="4.6" height="4.6" fill="#aad583"/><rect x="506.7" y="87.3" width="4.6" height="4.6" fill="#aece82"/><rect x="511.1" y="87.3" width="4.6" height="4.6" fill="#73ce74"/><rect x="515.6" y="87.3" width="4.6" height="4.6" fill="#68cd71"/><rect x="520.1" y="87.3" width="4.6" height="4.6" fill="#63ca6e"/><rect x="524.6" y="87.3" width="4.6" height="4.6" fill="#51c463"/><rect x="529.1" y="87.3" width="4.6" height="4.6" fill="#4dc460"/><rect x="533.6" y="87.3" width="4.6" height="4.6" fill="#4dc45f"/><rect x="538.1" y="87.3" width="4.6" height="4.6" fill="#4fbf62"/><rect x="542.6" y="87.3" width="4.6" height="4.6" fill="#54c367"/><rect x="547.1" y="87.3" width="4.6" height="4.6" fill="#3d8e32"/><rect x="551.6" y="87.3" width="4.6" height="4.6" fill="#41882d"/><rect x="556.1" y="87.3" width="4.6" height="4.6" fill="#328019"/><rect x="560.6" y="87.3" width="4.6" height="4.6" fill="#30811c"/><rect x="565.0" y="87.3" width="4.6" height="4.6" fill="#30811c"/><rect x="569.5" y="87.3" width="4.6" height="4.6" fill="#267812"/><rect x="574.0" y="87.3" width="4.6" height="4.6" fill="#247612"/><rect x="380.9" y="91.8" width="4.6" height="4.6" fill="#267d21"/><rect x="385.4" y="91.8" width="4.6" height="4.6" fill="#24781e"/><rect x="389.9" y="91.8" width="4.6" height="4.6" fill="#4ba54b"/><rect x="394.4" y="91.8" width="4.6" height="4.6" fill="#4fa94f"/><rect x="398.9" y="91.8" width="4.6" height="4.6" fill="#5cb055"/><rect x="403.3" y="91.8" width="4.6" height="4.6" fill="#73bb60"/><rect x="407.8" y="91.8" width="4.6" height="4.6" fill="#76ad53"/><rect x="412.3" y="91.8" width="4.6" height="4.6" fill="#76872e"/><rect x="416.8" y="91.8" width="4.6" height="4.6" fill="#8a924c"/><rect x="421.3" y="91.8" width="4.6" height="4.6" fill="#ddde9d"/><rect x="425.8" y="91.8" width="4.6" height="4.6" fill="#ddc887"/><rect x="430.3" y="91.8" width="4.6" height="4.6" fill="#f4eabf"/><rect x="434.8" y="91.8" width="4.6" height="4.6" fill="#f4eabe"/><rect x="439.3" y="91.8" width="4.6" height="4.6" fill="#ebd8a2"/><rect x="443.8" y="91.8" width="4.6" height="4.6" fill="#eee1b4"/><rect x="448.3" y="91.8" width="4.6" height="4.6" fill="#f1e7c1"/><rect x="452.8" y="91.8" width="4.6" height="4.6" fill="#f0e7c0"/><rect x="457.2" y="91.8" width="4.6" height="4.6" fill="#f9f1cd"/><rect x="461.7" y="91.8" width="4.6" height="4.6" fill="#ece6ba"/><rect x="466.2" y="91.8" width="4.6" height="4.6" fill="#e8e3b5"/><rect x="470.7" y="91.8" width="4.6" height="4.6" fill="#d1d197"/><rect x="475.2" y="91.8" width="4.6" height="4.6" fill="#cfd89c"/><rect x="479.7" y="91.8" width="4.6" height="4.6" fill="#efe7c1"/><rect x="484.2" y="91.8" width="4.6" height="4.6" fill="#dbdba6"/><rect x="488.7" y="91.8" width="4.6" height="4.6" fill="#dfcd9f"/><rect x="493.2" y="91.8" width="4.6" height="4.6" fill="#e8ba8b"/><rect x="497.7" y="91.8" width="4.6" height="4.6" fill="#d5c189"/><rect x="502.2" y="91.8" width="4.6" height="4.6" fill="#bec98b"/><rect x="506.7" y="91.8" width="4.6" height="4.6" fill="#c0c485"/><rect x="511.1" y="91.8" width="4.6" height="4.6" fill="#83d17a"/><rect x="515.6" y="91.8" width="4.6" height="4.6" fill="#79d077"/><rect x="520.1" y="91.8" width="4.6" height="4.6" fill="#5dc869"/><rect x="524.6" y="91.8" width="4.6" height="4.6" fill="#4dc45f"/><rect x="529.1" y="91.8" width="4.6" height="4.6" fill="#4dc45f"/><rect x="533.6" y="91.8" width="4.6" height="4.6" fill="#44bc58"/><rect x="538.1" y="91.8" width="4.6" height="4.6" fill="#2da946"/><rect x="542.6" y="91.8" width="4.6" height="4.6" fill="#259b39"/><rect x="547.1" y="91.8" width="4.6" height="4.6" fill="#239735"/><rect x="551.6" y="91.8" width="4.6" height="4.6" fill="#3f882c"/><rect x="556.1" y="91.8" width="4.6" height="4.6" fill="#308118"/><rect x="560.6" y="91.8" width="4.6" height="4.6" fill="#2f8019"/><rect x="565.0" y="91.8" width="4.6" height="4.6" fill="#2f801c"/><rect x="569.5" y="91.8" width="4.6" height="4.6" fill="#24760f"/><rect x="574.0" y="91.8" width="4.6" height="4.6" fill="#24760e"/><rect x="380.9" y="96.3" width="4.6" height="4.6" fill="#f2f8fd"/><rect x="385.4" y="96.3" width="4.6" height="4.6" fill="#247621"/><rect x="389.9" y="96.3" width="4.6" height="4.6" fill="#4e9c43"/><rect x="394.4" y="96.3" width="4.6" height="4.6" fill="#61a94f"/><rect x="398.9" y="96.3" width="4.6" height="4.6" fill="#63aa51"/><rect x="403.3" y="96.3" width="4.6" height="4.6" fill="#8cbb69"/><rect x="407.8" y="96.3" width="4.6" height="4.6" fill="#8dbb69"/><rect x="412.3" y="96.3" width="4.6" height="4.6" fill="#6b742c"/><rect x="416.8" y="96.3" width="4.6" height="4.6" fill="#666c28"/><rect x="421.3" y="96.3" width="4.6" height="4.6" fill="#d6c17f"/><rect x="425.8" y="96.3" width="4.6" height="4.6" fill="#dfc382"/><rect x="430.3" y="96.3" width="4.6" height="4.6" fill="#dcc182"/><rect x="434.8" y="96.3" width="4.6" height="4.6" fill="#e7d094"/><rect x="439.3" y="96.3" width="4.6" height="4.6" fill="#dfc88c"/><rect x="443.8" y="96.3" width="4.6" height="4.6" fill="#eddfb0"/><rect x="448.3" y="96.3" width="4.6" height="4.6" fill="#f1e3b4"/><rect x="452.8" y="96.3" width="4.6" height="4.6" fill="#e7d9aa"/><rect x="457.2" y="96.3" width="4.6" height="4.6" fill="#fdf3d2"/><rect x="461.7" y="96.3" width="4.6" height="4.6" fill="#fef4d3"/><rect x="466.2" y="96.3" width="4.6" height="4.6" fill="#ccbb86"/><rect x="470.7" y="96.3" width="4.6" height="4.6" fill="#cdba83"/><rect x="475.2" y="96.3" width="4.6" height="4.6" fill="#dddaac"/><rect x="479.7" y="96.3" width="4.6" height="4.6" fill="#dfdfb1"/><rect x="484.2" y="96.3" width="4.6" height="4.6" fill="#eee0b9"/><rect x="488.7" y="96.3" width="4.6" height="4.6" fill="#f1d5b0"/><rect x="493.2" y="96.3" width="4.6" height="4.6" fill="#e6c195"/><rect x="497.7" y="96.3" width="4.6" height="4.6" fill="#d6ba83"/><rect x="502.2" y="96.3" width="4.6" height="4.6" fill="#c8c185"/><rect x="506.7" y="96.3" width="4.6" height="4.6" fill="#b1c883"/><rect x="511.1" y="96.3" width="4.6" height="4.6" fill="#86d07a"/><rect x="515.6" y="96.3" width="4.6" height="4.6" fill="#7bcb72"/><rect x="520.1" y="96.3" width="4.6" height="4.6" fill="#63c567"/><rect x="524.6" y="96.3" width="4.6" height="4.6" fill="#4cc35e"/><rect x="529.1" y="96.3" width="4.6" height="4.6" fill="#44ba56"/><rect x="533.6" y="96.3" width="4.6" height="4.6" fill="#37af4c"/><rect x="538.1" y="96.3" width="4.6" height="4.6" fill="#2da644"/><rect x="542.6" y="96.3" width="4.6" height="4.6" fill="#249635"/><rect x="547.1" y="96.3" width="4.6" height="4.6" fill="#228c2d"/><rect x="551.6" y="96.3" width="4.6" height="4.6" fill="#2b8222"/><rect x="556.1" y="96.3" width="4.6" height="4.6" fill="#267714"/><rect x="560.6" y="96.3" width="4.6" height="4.6" fill="#14640d"/><rect x="565.0" y="96.3" width="4.6" height="4.6" fill="#18680f"/><rect x="569.5" y="96.3" width="4.6" height="4.6" fill="#207014"/><rect x="574.0" y="96.3" width="4.6" height="4.6" fill="#206f15"/><rect x="578.5" y="96.3" width="4.6" height="4.6" fill="#217113"/><rect x="380.9" y="100.8" width="4.6" height="4.6" fill="#f2f8fd"/><rect x="385.4" y="100.8" width="4.6" height="4.6" fill="#24761d"/><rect x="389.9" y="100.8" width="4.6" height="4.6" fill="#328229"/><rect x="394.4" y="100.8" width="4.6" height="4.6" fill="#63a94f"/><rect x="398.9" y="100.8" width="4.6" height="4.6" fill="#63a94f"/><rect x="403.3" y="100.8" width="4.6" height="4.6" fill="#9ab86b"/><rect x="407.8" y="100.8" width="4.6" height="4.6" fill="#a8bb72"/><rect x="412.3" y="100.8" width="4.6" height="4.6" fill="#c1a960"/><rect x="416.8" y="100.8" width="4.6" height="4.6" fill="#cba85e"/><rect x="421.3" y="100.8" width="4.6" height="4.6" fill="#d5a654"/><rect x="425.8" y="100.8" width="4.6" height="4.6" fill="#df9e42"/><rect x="430.3" y="100.8" width="4.6" height="4.6" fill="#a67a2a"/><rect x="434.8" y="100.8" width="4.6" height="4.6" fill="#685111"/><rect x="439.3" y="100.8" width="4.6" height="4.6" fill="#534308"/><rect x="443.8" y="100.8" width="4.6" height="4.6" fill="#d4c28b"/><rect x="448.3" y="100.8" width="4.6" height="4.6" fill="#d7c58e"/><rect x="452.8" y="100.8" width="4.6" height="4.6" fill="#cdb67a"/><rect x="457.2" y="100.8" width="4.6" height="4.6" fill="#c0a96f"/><rect x="461.7" y="100.8" width="4.6" height="4.6" fill="#896d30"/><rect x="466.2" y="100.8" width="4.6" height="4.6" fill="#66521f"/><rect x="470.7" y="100.8" width="4.6" height="4.6" fill="#544211"/><rect x="475.2" y="100.8" width="4.6" height="4.6" fill="#f7edd0"/><rect x="479.7" y="100.8" width="4.6" height="4.6" fill="#fcf3d6"/><rect x="484.2" y="100.8" width="4.6" height="4.6" fill="#fff6e0"/><rect x="488.7" y="100.8" width="4.6" height="4.6" fill="#f5e3c8"/><rect x="493.2" y="100.8" width="4.6" height="4.6" fill="#e4ba91"/><rect x="497.7" y="100.8" width="4.6" height="4.6" fill="#c3ad71"/><rect x="502.2" y="100.8" width="4.6" height="4.6" fill="#cab980"/><rect x="506.7" y="100.8" width="4.6" height="4.6" fill="#a8cd84"/><rect x="511.1" y="100.8" width="4.6" height="4.6" fill="#8ec877"/><rect x="515.6" y="100.8" width="4.6" height="4.6" fill="#72c469"/><rect x="520.1" y="100.8" width="4.6" height="4.6" fill="#70c468"/><rect x="524.6" y="100.8" width="4.6" height="4.6" fill="#3eb34f"/><rect x="529.1" y="100.8" width="4.6" height="4.6" fill="#3cb24e"/><rect x="533.6" y="100.8" width="4.6" height="4.6" fill="#3aaf4b"/><rect x="538.1" y="100.8" width="4.6" height="4.6" fill="#228e2d"/><rect x="542.6" y="100.8" width="4.6" height="4.6" fill="#228e2c"/><rect x="547.1" y="100.8" width="4.6" height="4.6" fill="#1f761d"/><rect x="551.6" y="100.8" width="4.6" height="4.6" fill="#20771d"/><rect x="556.1" y="100.8" width="4.6" height="4.6" fill="#15660e"/><rect x="560.6" y="100.8" width="4.6" height="4.6" fill="#14640d"/><rect x="565.0" y="100.8" width="4.6" height="4.6" fill="#15650e"/><rect x="569.5" y="100.8" width="4.6" height="4.6" fill="#206f15"/><rect x="574.0" y="100.8" width="4.6" height="4.6" fill="#206f15"/><rect x="578.5" y="100.8" width="4.6" height="4.6" fill="#206f15"/><rect x="385.4" y="105.3" width="4.6" height="4.6" fill="#24761e"/><rect x="389.9" y="105.3" width="4.6" height="4.6" fill="#277d25"/><rect x="394.4" y="105.3" width="4.6" height="4.6" fill="#5fa64c"/><rect x="398.9" y="105.3" width="4.6" height="4.6" fill="#5aa54b"/><rect x="403.3" y="105.3" width="4.6" height="4.6" fill="#90b366"/><rect x="407.8" y="105.3" width="4.6" height="4.6" fill="#a8bb72"/><rect x="412.3" y="105.3" width="4.6" height="4.6" fill="#c1ab62"/><rect x="416.8" y="105.3" width="4.6" height="4.6" fill="#cca85f"/><rect x="421.3" y="105.3" width="4.6" height="4.6" fill="#d8a750"/><rect x="425.8" y="105.3" width="4.6" height="4.6" fill="#dea549"/><rect x="430.3" y="105.3" width="4.6" height="4.6" fill="#806119"/><rect x="434.8" y="105.3" width="4.6" height="4.6" fill="#715713"/><rect x="439.3" y="105.3" width="4.6" height="4.6" fill="#655210"/><rect x="443.8" y="105.3" width="4.6" height="4.6" fill="#d3c189"/><rect x="448.3" y="105.3" width="4.6" height="4.6" fill="#a99353"/><rect x="452.8" y="105.3" width="4.6" height="4.6" fill="#c3ac72"/><rect x="457.2" y="105.3" width="4.6" height="4.6" fill="#8e7741"/><rect x="461.7" y="105.3" width="4.6" height="4.6" fill="#765c24"/><rect x="466.2" y="105.3" width="4.6" height="4.6" fill="#745b27"/><rect x="470.7" y="105.3" width="4.6" height="4.6" fill="#7d622e"/><rect x="475.2" y="105.3" width="4.6" height="4.6" fill="#e5d4b5"/><rect x="479.7" y="105.3" width="4.6" height="4.6" fill="#f5e7cb"/><rect x="484.2" y="105.3" width="4.6" height="4.6" fill="#f7e9d0"/><rect x="488.7" y="105.3" width="4.6" height="4.6" fill="#f0ddc1"/><rect x="493.2" y="105.3" width="4.6" height="4.6" fill="#e0bc92"/><rect x="497.7" y="105.3" width="4.6" height="4.6" fill="#cab47d"/><rect x="502.2" y="105.3" width="4.6" height="4.6" fill="#c2bb7f"/><rect x="506.7" y="105.3" width="4.6" height="4.6" fill="#accb84"/><rect x="511.1" y="105.3" width="4.6" height="4.6" fill="#8fc978"/><rect x="515.6" y="105.3" width="4.6" height="4.6" fill="#72c469"/><rect x="520.1" y="105.3" width="4.6" height="4.6" fill="#6cc266"/><rect x="524.6" y="105.3" width="4.6" height="4.6" fill="#41b34f"/><rect x="529.1" y="105.3" width="4.6" height="4.6" fill="#3cb24e"/><rect x="533.6" y="105.3" width="4.6" height="4.6" fill="#35a845"/><rect x="538.1" y="105.3" width="4.6" height="4.6" fill="#228e2d"/><rect x="542.6" y="105.3" width="4.6" height="4.6" fill="#218a2a"/><rect x="547.1" y="105.3" width="4.6" height="4.6" fill="#1f771e"/><rect x="551.6" y="105.3" width="4.6" height="4.6" fill="#1f791e"/><rect x="385.4" y="109.8" width="4.6" height="4.6" fill="#f2f8fd"/><rect x="389.9" y="109.8" width="4.6" height="4.6" fill="#237c25"/><rect x="394.4" y="109.8" width="4.6" height="4.6" fill="#41953b"/><rect x="398.9" y="109.8" width="4.6" height="4.6" fill="#4fa047"/><rect x="403.3" y="109.8" width="4.6" height="4.6" fill="#57a24a"/><rect x="407.8" y="109.8" width="4.6" height="4.6" fill="#8ea961"/><rect x="412.3" y="109.8" width="4.6" height="4.6" fill="#96aa61"/><rect x="416.8" y="109.8" width="4.6" height="4.6" fill="#c4a95f"/><rect x="421.3" y="109.8" width="4.6" height="4.6" fill="#d3aa57"/><rect x="425.8" y="109.8" width="4.6" height="4.6" fill="#dfa74b"/><rect x="430.3" y="109.8" width="4.6" height="4.6" fill="#574709"/><rect x="434.8" y="109.8" width="4.6" height="4.6" fill="#524407"/><rect x="439.3" y="109.8" width="4.6" height="4.6" fill="#64510d"/><rect x="443.8" y="109.8" width="4.6" height="4.6" fill="#836c23"/><rect x="448.3" y="109.8" width="4.6" height="4.6" fill="#876f25"/><rect x="452.8" y="109.8" width="4.6" height="4.6" fill="#2e1e02"/><rect x="457.2" y="109.8" width="4.6" height="4.6" fill="#372706"/><rect x="461.7" y="109.8" width="4.6" height="4.6" fill="#402f08"/><rect x="466.2" y="109.8" width="4.6" height="4.6" fill="#7d6230"/><rect x="470.7" y="109.8" width="4.6" height="4.6" fill="#886c37"/><rect x="475.2" y="109.8" width="4.6" height="4.6" fill="#efd3b7"/><rect x="479.7" y="109.8" width="4.6" height="4.6" fill="#e1c4a8"/><rect x="484.2" y="109.8" width="4.6" height="4.6" fill="#6d492f"/><rect x="488.7" y="109.8" width="4.6" height="4.6" fill="#8a6542"/><rect x="493.2" y="109.8" width="4.6" height="4.6" fill="#d6c395"/><rect x="497.7" y="109.8" width="4.6" height="4.6" fill="#c6b17b"/><rect x="502.2" y="109.8" width="4.6" height="4.6" fill="#b9cc8c"/><rect x="506.7" y="109.8" width="4.6" height="4.6" fill="#b2ca89"/><rect x="511.1" y="109.8" width="4.6" height="4.6" fill="#84cd7a"/><rect x="515.6" y="109.8" width="4.6" height="4.6" fill="#83cd7a"/><rect x="520.1" y="109.8" width="4.6" height="4.6" fill="#51b756"/><rect x="524.6" y="109.8" width="4.6" height="4.6" fill="#45b24e"/><rect x="529.1" y="109.8" width="4.6" height="4.6" fill="#44b14e"/><rect x="533.6" y="109.8" width="4.6" height="4.6" fill="#24912f"/><rect x="538.1" y="109.8" width="4.6" height="4.6" fill="#228e2d"/><rect x="542.6" y="109.8" width="4.6" height="4.6" fill="#1e8825"/><rect x="547.1" y="109.8" width="4.6" height="4.6" fill="#1e8725"/><rect x="385.4" y="114.3" width="4.6" height="4.6" fill="#f2f8fd"/><rect x="389.9" y="114.3" width="4.6" height="4.6" fill="#2e8d2c"/><rect x="394.4" y="114.3" width="4.6" height="4.6" fill="#308f2e"/><rect x="398.9" y="114.3" width="4.6" height="4.6" fill="#4ea44a"/><rect x="403.3" y="114.3" width="4.6" height="4.6" fill="#4fa94f"/><rect x="407.8" y="114.3" width="4.6" height="4.6" fill="#88af63"/><rect x="412.3" y="114.3" width="4.6" height="4.6" fill="#a0bb72"/><rect x="416.8" y="114.3" width="4.6" height="4.6" fill="#d0c878"/><rect x="421.3" y="114.3" width="4.6" height="4.6" fill="#dfd582"/><rect x="425.8" y="114.3" width="4.6" height="4.6" fill="#cdb14d"/><rect x="430.3" y="114.3" width="4.6" height="4.6" fill="#97802c"/><rect x="434.8" y="114.3" width="4.6" height="4.6" fill="#63500d"/><rect x="439.3" y="114.3" width="4.6" height="4.6" fill="#654e0b"/><rect x="443.8" y="114.3" width="4.6" height="4.6" fill="#654d0a"/><rect x="448.3" y="114.3" width="4.6" height="4.6" fill="#60490f"/><rect x="452.8" y="114.3" width="4.6" height="4.6" fill="#533f13"/><rect x="457.2" y="114.3" width="4.6" height="4.6" fill="#cdbb8d"/><rect x="461.7" y="114.3" width="4.6" height="4.6" fill="#bfa77e"/><rect x="466.2" y="114.3" width="4.6" height="4.6" fill="#e7cba6"/><rect x="470.7" y="114.3" width="4.6" height="4.6" fill="#d8bb95"/><rect x="475.2" y="114.3" width="4.6" height="4.6" fill="#e7c7a7"/><rect x="479.7" y="114.3" width="4.6" height="4.6" fill="#98765a"/><rect x="484.2" y="114.3" width="4.6" height="4.6" fill="#7c583e"/><rect x="488.7" y="114.3" width="4.6" height="4.6" fill="#8b6745"/><rect x="493.2" y="114.3" width="4.6" height="4.6" fill="#beba7f"/><rect x="497.7" y="114.3" width="4.6" height="4.6" fill="#bebb7e"/><rect x="502.2" y="114.3" width="4.6" height="4.6" fill="#a5c880"/><rect x="506.7" y="114.3" width="4.6" height="4.6" fill="#a4c880"/><rect x="511.1" y="114.3" width="4.6" height="4.6" fill="#82cc79"/><rect x="515.6" y="114.3" width="4.6" height="4.6" fill="#7fcb77"/><rect x="520.1" y="114.3" width="4.6" height="4.6" fill="#4bb150"/><rect x="524.6" y="114.3" width="4.6" height="4.6" fill="#44b14d"/><rect x="529.1" y="114.3" width="4.6" height="4.6" fill="#41ad4a"/><rect x="533.6" y="114.3" width="4.6" height="4.6" fill="#238f2d"/><rect x="538.1" y="114.3" width="4.6" height="4.6" fill="#228e2d"/><rect x="542.6" y="114.3" width="4.6" height="4.6" fill="#1e8725"/><rect x="547.1" y="114.3" width="4.6" height="4.6" fill="#1e8724"/><rect x="389.9" y="118.8" width="4.6" height="4.6" fill="#f2f8fd"/><rect x="394.4" y="118.8" width="4.6" height="4.6" fill="#2f8e2d"/><rect x="398.9" y="118.8" width="4.6" height="4.6" fill="#4ca74b"/><rect x="403.3" y="118.8" width="4.6" height="4.6" fill="#4fa94f"/><rect x="407.8" y="118.8" width="4.6" height="4.6" fill="#7fb463"/><rect x="412.3" y="118.8" width="4.6" height="4.6" fill="#a0bb72"/><rect x="416.8" y="118.8" width="4.6" height="4.6" fill="#c2ca7a"/><rect x="421.3" y="118.8" width="4.6" height="4.6" fill="#ddd480"/><rect x="425.8" y="118.8" width="4.6" height="4.6" fill="#ccb14e"/><rect x="430.3" y="118.8" width="4.6" height="4.6" fill="#705c15"/><rect x="434.8" y="118.8" width="4.6" height="4.6" fill="#64510e"/><rect x="439.3" y="118.8" width="4.6" height="4.6" fill="#6a510f"/><rect x="443.8" y="118.8" width="4.6" height="4.6" fill="#644d0a"/><rect x="448.3" y="118.8" width="4.6" height="4.6" fill="#543d08"/><rect x="452.8" y="118.8" width="4.6" height="4.6" fill="#5f4813"/><rect x="457.2" y="118.8" width="4.6" height="4.6" fill="#dfcc9e"/><rect x="461.7" y="118.8" width="4.6" height="4.6" fill="#e0cba0"/><rect x="466.2" y="118.8" width="4.6" height="4.6" fill="#e8cca7"/><rect x="470.7" y="118.8" width="4.6" height="4.6" fill="#e2caa3"/><rect x="475.2" y="118.8" width="4.6" height="4.6" fill="#e8c7a7"/><rect x="479.7" y="118.8" width="4.6" height="4.6" fill="#decba6"/><rect x="484.2" y="118.8" width="4.6" height="4.6" fill="#e7d0af"/><rect x="488.7" y="118.8" width="4.6" height="4.6" fill="#d7c498"/><rect x="493.2" y="118.8" width="4.6" height="4.6" fill="#c8ca91"/><rect x="497.7" y="118.8" width="4.6" height="4.6" fill="#a4c67e"/><rect x="502.2" y="118.8" width="4.6" height="4.6" fill="#9fc87b"/><rect x="506.7" y="118.8" width="4.6" height="4.6" fill="#95ca77"/><rect x="511.1" y="118.8" width="4.6" height="4.6" fill="#60bb60"/><rect x="515.6" y="118.8" width="4.6" height="4.6" fill="#60bb60"/><rect x="520.1" y="118.8" width="4.6" height="4.6" fill="#389e3e"/><rect x="524.6" y="118.8" width="4.6" height="4.6" fill="#2f9735"/><rect x="529.1" y="118.8" width="4.6" height="4.6" fill="#2e9735"/><rect x="533.6" y="118.8" width="4.6" height="4.6" fill="#1f8826"/><rect x="538.1" y="118.8" width="4.6" height="4.6" fill="#1e8825"/><rect x="542.6" y="118.8" width="4.6" height="4.6" fill="#1f7d1d"/><rect x="547.1" y="118.8" width="4.6" height="4.6" fill="#1f7c1d"/><rect x="389.9" y="123.3" width="4.6" height="4.6" fill="#f2f8fd"/><rect x="394.4" y="123.3" width="4.6" height="4.6" fill="#228820"/><rect x="398.9" y="123.3" width="4.6" height="4.6" fill="#2a9228"/><rect x="403.3" y="123.3" width="4.6" height="4.6" fill="#3cb23c"/><rect x="407.8" y="123.3" width="4.6" height="4.6" fill="#41b23f"/><rect x="412.3" y="123.3" width="4.6" height="4.6" fill="#64bb58"/><rect x="416.8" y="123.3" width="4.6" height="4.6" fill="#61bb57"/><rect x="421.3" y="123.3" width="4.6" height="4.6" fill="#b9b37a"/><rect x="425.8" y="123.3" width="4.6" height="4.6" fill="#bdb27b"/><rect x="430.3" y="123.3" width="4.6" height="4.6" fill="#f3b889"/><rect x="434.8" y="123.3" width="4.6" height="4.6" fill="#cb9a66"/><rect x="439.3" y="123.3" width="4.6" height="4.6" fill="#8c6931"/><rect x="443.8" y="123.3" width="4.6" height="4.6" fill="#93723b"/><rect x="448.3" y="123.3" width="4.6" height="4.6" fill="#f3e5b7"/><rect x="452.8" y="123.3" width="4.6" height="4.6" fill="#dfd09f"/><rect x="457.2" y="123.3" width="4.6" height="4.6" fill="#f0e7af"/><rect x="461.7" y="123.3" width="4.6" height="4.6" fill="#ece4ac"/><rect x="466.2" y="123.3" width="4.6" height="4.6" fill="#b2cd84"/><rect x="470.7" y="123.3" width="4.6" height="4.6" fill="#b2cd84"/><rect x="475.2" y="123.3" width="4.6" height="4.6" fill="#93d080"/><rect x="479.7" y="123.3" width="4.6" height="4.6" fill="#86d17b"/><rect x="484.2" y="123.3" width="4.6" height="4.6" fill="#bfce97"/><rect x="488.7" y="123.3" width="4.6" height="4.6" fill="#7dc573"/><rect x="493.2" y="123.3" width="4.6" height="4.6" fill="#54c462"/><rect x="497.7" y="123.3" width="4.6" height="4.6" fill="#80c473"/><rect x="502.2" y="123.3" width="4.6" height="4.6" fill="#40bc61"/><rect x="506.7" y="123.3" width="4.6" height="4.6" fill="#45bc62"/><rect x="511.1" y="123.3" width="4.6" height="4.6" fill="#5cba60"/><rect x="515.6" y="123.3" width="4.6" height="4.6" fill="#50b35c"/><rect x="520.1" y="123.3" width="4.6" height="4.6" fill="#379a43"/><rect x="524.6" y="123.3" width="4.6" height="4.6" fill="#2e9234"/><rect x="529.1" y="123.3" width="4.6" height="4.6" fill="#237d26"/><rect x="533.6" y="123.3" width="4.6" height="4.6" fill="#237e26"/><rect x="538.1" y="123.3" width="4.6" height="4.6" fill="#1e8724"/><rect x="542.6" y="123.3" width="4.6" height="4.6" fill="#1f7f1e"/><rect x="389.9" y="127.8" width="4.6" height="4.6" fill="#f2f8fd"/><rect x="394.4" y="127.8" width="4.6" height="4.6" fill="#228820"/><rect x="398.9" y="127.8" width="4.6" height="4.6" fill="#268f24"/><rect x="403.3" y="127.8" width="4.6" height="4.6" fill="#3cb23c"/><rect x="407.8" y="127.8" width="4.6" height="4.6" fill="#3eb23d"/><rect x="412.3" y="127.8" width="4.6" height="4.6" fill="#5fbb56"/><rect x="416.8" y="127.8" width="4.6" height="4.6" fill="#61bb57"/><rect x="421.3" y="127.8" width="4.6" height="4.6" fill="#b7b37a"/><rect x="425.8" y="127.8" width="4.6" height="4.6" fill="#beb37d"/><rect x="430.3" y="127.8" width="4.6" height="4.6" fill="#f4b98a"/><rect x="434.8" y="127.8" width="4.6" height="4.6" fill="#d8a472"/><rect x="439.3" y="127.8" width="4.6" height="4.6" fill="#97733c"/><rect x="443.8" y="127.8" width="4.6" height="4.6" fill="#ab8b55"/><rect x="448.3" y="127.8" width="4.6" height="4.6" fill="#f5e7b9"/><rect x="452.8" y="127.8" width="4.6" height="4.6" fill="#f8ecbc"/><rect x="457.2" y="127.8" width="4.6" height="4.6" fill="#f0e7af"/><rect x="461.7" y="127.8" width="4.6" height="4.6" fill="#e9e4aa"/><rect x="466.2" y="127.8" width="4.6" height="4.6" fill="#b1cd84"/><rect x="470.7" y="127.8" width="4.6" height="4.6" fill="#b1cd83"/><rect x="475.2" y="127.8" width="4.6" height="4.6" fill="#85d17a"/><rect x="479.7" y="127.8" width="4.6" height="4.6" fill="#83d177"/><rect x="484.2" y="127.8" width="4.6" height="4.6" fill="#83d171"/><rect x="488.7" y="127.8" width="4.6" height="4.6" fill="#55c663"/><rect x="493.2" y="127.8" width="4.6" height="4.6" fill="#5ecc67"/><rect x="497.7" y="127.8" width="4.6" height="4.6" fill="#5ac967"/><rect x="502.2" y="127.8" width="4.6" height="4.6" fill="#3cbb60"/><rect x="506.7" y="127.8" width="4.6" height="4.6" fill="#45bb60"/><rect x="511.1" y="127.8" width="4.6" height="4.6" fill="#42b25c"/><rect x="515.6" y="127.8" width="4.6" height="4.6" fill="#3da958"/><rect x="520.1" y="127.8" width="4.6" height="4.6" fill="#359442"/><rect x="524.6" y="127.8" width="4.6" height="4.6" fill="#308836"/><rect x="529.1" y="127.8" width="4.6" height="4.6" fill="#247d26"/><rect x="533.6" y="127.8" width="4.6" height="4.6" fill="#237d26"/><rect x="538.1" y="127.8" width="4.6" height="4.6" fill="#228225"/><rect x="389.9" y="132.3" width="4.6" height="4.6" fill="#f2f8fd"/><rect x="394.4" y="132.3" width="4.6" height="4.6" fill="#1e881c"/><rect x="398.9" y="132.3" width="4.6" height="4.6" fill="#1e881c"/><rect x="403.3" y="132.3" width="4.6" height="4.6" fill="#36a935"/><rect x="407.8" y="132.3" width="4.6" height="4.6" fill="#3cb23c"/><rect x="412.3" y="132.3" width="4.6" height="4.6" fill="#49b445"/><rect x="416.8" y="132.3" width="4.6" height="4.6" fill="#72bb60"/><rect x="421.3" y="132.3" width="4.6" height="4.6" fill="#77bb62"/><rect x="425.8" y="132.3" width="4.6" height="4.6" fill="#d6ba8c"/><rect x="430.3" y="132.3" width="4.6" height="4.6" fill="#e7bd8e"/><rect x="434.8" y="132.3" width="4.6" height="4.6" fill="#f0b98a"/><rect x="439.3" y="132.3" width="4.6" height="4.6" fill="#93672f"/><rect x="443.8" y="132.3" width="4.6" height="4.6" fill="#cda871"/><rect x="448.3" y="132.3" width="4.6" height="4.6" fill="#fff4c5"/><rect x="452.8" y="132.3" width="4.6" height="4.6" fill="#fff6c7"/><rect x="457.2" y="132.3" width="4.6" height="4.6" fill="#abab63"/><rect x="461.7" y="132.3" width="4.6" height="4.6" fill="#abb96f"/><rect x="466.2" y="132.3" width="4.6" height="4.6" fill="#a8d183"/><rect x="470.7" y="132.3" width="4.6" height="4.6" fill="#a6d182"/><rect x="475.2" y="132.3" width="4.6" height="4.6" fill="#73cd72"/><rect x="479.7" y="132.3" width="4.6" height="4.6" fill="#71cd71"/><rect x="484.2" y="132.3" width="4.6" height="4.6" fill="#7ed071"/><rect x="488.7" y="132.3" width="4.6" height="4.6" fill="#47bc61"/><rect x="493.2" y="132.3" width="4.6" height="4.6" fill="#46bc60"/><rect x="497.7" y="132.3" width="4.6" height="4.6" fill="#50c166"/><rect x="502.2" y="132.3" width="4.6" height="4.6" fill="#3faf68"/><rect x="506.7" y="132.3" width="4.6" height="4.6" fill="#44b961"/><rect x="511.1" y="132.3" width="4.6" height="4.6" fill="#3fae5a"/><rect x="515.6" y="132.3" width="4.6" height="4.6" fill="#3da957"/><rect x="520.1" y="132.3" width="4.6" height="4.6" fill="#359644"/><rect x="524.6" y="132.3" width="4.6" height="4.6" fill="#308836"/><rect x="529.1" y="132.3" width="4.6" height="4.6" fill="#2b8430"/><rect x="394.4" y="136.8" width="4.6" height="4.6" fill="#1e881c"/><rect x="398.9" y="136.8" width="4.6" height="4.6" fill="#1e871c"/><rect x="403.3" y="136.8" width="4.6" height="4.6" fill="#2f9f2e"/><rect x="407.8" y="136.8" width="4.6" height="4.6" fill="#3cb23c"/><rect x="412.3" y="136.8" width="4.6" height="4.6" fill="#46b342"/><rect x="416.8" y="136.8" width="4.6" height="4.6" fill="#73ba60"/><rect x="421.3" y="136.8" width="4.6" height="4.6" fill="#7eb864"/><rect x="425.8" y="136.8" width="4.6" height="4.6" fill="#d0b787"/><rect x="430.3" y="136.8" width="4.6" height="4.6" fill="#f0bd8d"/><rect x="434.8" y="136.8" width="4.6" height="4.6" fill="#e9b283"/><rect x="439.3" y="136.8" width="4.6" height="4.6" fill="#774b15"/><rect x="443.8" y="136.8" width="4.6" height="4.6" fill="#b58d56"/><rect x="448.3" y="136.8" width="4.6" height="4.6" fill="#a58e52"/><rect x="452.8" y="136.8" width="4.6" height="4.6" fill="#908540"/><rect x="457.2" y="136.8" width="4.6" height="4.6" fill="#a8a860"/><rect x="461.7" y="136.8" width="4.6" height="4.6" fill="#a5b065"/><rect x="466.2" y="136.8" width="4.6" height="4.6" fill="#a7d082"/><rect x="470.7" y="136.8" width="4.6" height="4.6" fill="#8ece76"/><rect x="475.2" y="136.8" width="4.6" height="4.6" fill="#76cd71"/><rect x="479.7" y="136.8" width="4.6" height="4.6" fill="#6fcc71"/><rect x="484.2" y="136.8" width="4.6" height="4.6" fill="#6ecc70"/><rect x="488.7" y="136.8" width="4.6" height="4.6" fill="#4bbf66"/><rect x="493.2" y="136.8" width="4.6" height="4.6" fill="#4ac16c"/><rect x="497.7" y="136.8" width="4.6" height="4.6" fill="#45b66e"/><rect x="502.2" y="136.8" width="4.6" height="4.6" fill="#3da96a"/><rect x="506.7" y="136.8" width="4.6" height="4.6" fill="#3da96b"/><rect x="511.1" y="136.8" width="4.6" height="4.6" fill="#308f40"/><rect x="515.6" y="136.8" width="4.6" height="4.6" fill="#308f40"/><rect x="520.1" y="136.8" width="4.6" height="4.6" fill="#339443"/><rect x="524.6" y="136.8" width="4.6" height="4.6" fill="#318b3a"/><rect x="394.4" y="141.3" width="4.6" height="4.6" fill="#f2f8fd"/><rect x="398.9" y="141.3" width="4.6" height="4.6" fill="#1e851c"/><rect x="403.3" y="141.3" width="4.6" height="4.6" fill="#218a1f"/><rect x="407.8" y="141.3" width="4.6" height="4.6" fill="#3cb23c"/><rect x="412.3" y="141.3" width="4.6" height="4.6" fill="#3db23d"/><rect x="416.8" y="141.3" width="4.6" height="4.6" fill="#7bb260"/><rect x="421.3" y="141.3" width="4.6" height="4.6" fill="#7cb261"/><rect x="425.8" y="141.3" width="4.6" height="4.6" fill="#b19861"/><rect x="430.3" y="141.3" width="4.6" height="4.6" fill="#b59862"/><rect x="434.8" y="141.3" width="4.6" height="4.6" fill="#f1b081"/><rect x="439.3" y="141.3" width="4.6" height="4.6" fill="#edb587"/><rect x="443.8" y="141.3" width="4.6" height="4.6" fill="#c59863"/><rect x="448.3" y="141.3" width="4.6" height="4.6" fill="#735b1c"/><rect x="452.8" y="141.3" width="4.6" height="4.6" fill="#877c36"/><rect x="457.2" y="141.3" width="4.6" height="4.6" fill="#8e9349"/><rect x="461.7" y="141.3" width="4.6" height="4.6" fill="#97bb69"/><rect x="466.2" y="141.3" width="4.6" height="4.6" fill="#90c36d"/><rect x="470.7" y="141.3" width="4.6" height="4.6" fill="#84cd71"/><rect x="475.2" y="141.3" width="4.6" height="4.6" fill="#80cc71"/><rect x="479.7" y="141.3" width="4.6" height="4.6" fill="#5ec76b"/><rect x="484.2" y="141.3" width="4.6" height="4.6" fill="#60c76c"/><rect x="488.7" y="141.3" width="4.6" height="4.6" fill="#52c16f"/><rect x="493.2" y="141.3" width="4.6" height="4.6" fill="#4abf72"/><rect x="497.7" y="141.3" width="4.6" height="4.6" fill="#40ae72"/><rect x="502.2" y="141.3" width="4.6" height="4.6" fill="#3da972"/><rect x="506.7" y="141.3" width="4.6" height="4.6" fill="#3ca66e"/><rect x="511.1" y="141.3" width="4.6" height="4.6" fill="#2f8e3f"/><rect x="515.6" y="141.3" width="4.6" height="4.6" fill="#2f8e3f"/><rect x="394.4" y="145.8" width="4.6" height="4.6" fill="#f2f8fd"/><rect x="398.9" y="145.8" width="4.6" height="4.6" fill="#1e871c"/><rect x="403.3" y="145.8" width="4.6" height="4.6" fill="#218a1e"/><rect x="407.8" y="145.8" width="4.6" height="4.6" fill="#3faf3f"/><rect x="412.3" y="145.8" width="4.6" height="4.6" fill="#44b144"/><rect x="416.8" y="145.8" width="4.6" height="4.6" fill="#74b55f"/><rect x="421.3" y="145.8" width="4.6" height="4.6" fill="#7db967"/><rect x="425.8" y="145.8" width="4.6" height="4.6" fill="#a3a666"/><rect x="430.3" y="145.8" width="4.6" height="4.6" fill="#c39963"/><rect x="434.8" y="145.8" width="4.6" height="4.6" fill="#e4a877"/><rect x="439.3" y="145.8" width="4.6" height="4.6" fill="#f3af80"/><rect x="443.8" y="145.8" width="4.6" height="4.6" fill="#a37942"/><rect x="448.3" y="145.8" width="4.6" height="4.6" fill="#694d18"/><rect x="452.8" y="145.8" width="4.6" height="4.6" fill="#654f1b"/><rect x="457.2" y="145.8" width="4.6" height="4.6" fill="#8da354"/><rect x="461.7" y="145.8" width="4.6" height="4.6" fill="#95b967"/><rect x="466.2" y="145.8" width="4.6" height="4.6" fill="#94cc78"/><rect x="470.7" y="145.8" width="4.6" height="4.6" fill="#86cd72"/><rect x="475.2" y="145.8" width="4.6" height="4.6" fill="#6bc76c"/><rect x="479.7" y="145.8" width="4.6" height="4.6" fill="#5dc469"/><rect x="484.2" y="145.8" width="4.6" height="4.6" fill="#58c46a"/><rect x="488.7" y="145.8" width="4.6" height="4.6" fill="#41ae6a"/><rect x="493.2" y="145.8" width="4.6" height="4.6" fill="#3dab6e"/><rect x="497.7" y="145.8" width="4.6" height="4.6" fill="#3da970"/><rect x="502.2" y="145.8" width="4.6" height="4.6" fill="#3ea06a"/><rect x="506.7" y="145.8" width="4.6" height="4.6" fill="#3b9f62"/><rect x="511.1" y="145.8" width="4.6" height="4.6" fill="#319545"/><rect x="515.6" y="145.8" width="4.6" height="4.6" fill="#309041"/><rect x="394.4" y="150.3" width="4.6" height="4.6" fill="#f2f8fd"/><rect x="398.9" y="150.3" width="4.6" height="4.6" fill="#1e881c"/><rect x="403.3" y="150.3" width="4.6" height="4.6" fill="#1e881c"/><rect x="407.8" y="150.3" width="4.6" height="4.6" fill="#3eab3e"/><rect x="412.3" y="150.3" width="4.6" height="4.6" fill="#43b043"/><rect x="416.8" y="150.3" width="4.6" height="4.6" fill="#7ab964"/><rect x="421.3" y="150.3" width="4.6" height="4.6" fill="#81bb69"/><rect x="425.8" y="150.3" width="4.6" height="4.6" fill="#b1a769"/><rect x="430.3" y="150.3" width="4.6" height="4.6" fill="#c49b64"/><rect x="434.8" y="150.3" width="4.6" height="4.6" fill="#f0ad7d"/><rect x="439.3" y="150.3" width="4.6" height="4.6" fill="#f5af81"/><rect x="443.8" y="150.3" width="4.6" height="4.6" fill="#dda677"/><rect x="448.3" y="150.3" width="4.6" height="4.6" fill="#704f0f"/><rect x="452.8" y="150.3" width="4.6" height="4.6" fill="#523c0c"/><rect x="457.2" y="150.3" width="4.6" height="4.6" fill="#94a958"/><rect x="461.7" y="150.3" width="4.6" height="4.6" fill="#94b462"/><rect x="466.2" y="150.3" width="4.6" height="4.6" fill="#95cd7a"/><rect x="470.7" y="150.3" width="4.6" height="4.6" fill="#84cd71"/><rect x="475.2" y="150.3" width="4.6" height="4.6" fill="#61c569"/><rect x="479.7" y="150.3" width="4.6" height="4.6" fill="#5bc469"/><rect x="484.2" y="150.3" width="4.6" height="4.6" fill="#4ec469"/><rect x="488.7" y="150.3" width="4.6" height="4.6" fill="#3daa69"/><rect x="493.2" y="150.3" width="4.6" height="4.6" fill="#3caf5d"/><rect x="497.7" y="150.3" width="4.6" height="4.6" fill="#3cb159"/><rect x="502.2" y="150.3" width="4.6" height="4.6" fill="#339a4a"/><rect x="506.7" y="150.3" width="4.6" height="4.6" fill="#2f973e"/><rect x="511.1" y="150.3" width="4.6" height="4.6" fill="#2f973f"/><rect x="398.9" y="154.8" width="4.6" height="4.6" fill="#1e881c"/><rect x="403.3" y="154.8" width="4.6" height="4.6" fill="#20891e"/><rect x="407.8" y="154.8" width="4.6" height="4.6" fill="#3ca83c"/><rect x="412.3" y="154.8" width="4.6" height="4.6" fill="#3eaa3e"/><rect x="416.8" y="154.8" width="4.6" height="4.6" fill="#61b254"/><rect x="421.3" y="154.8" width="4.6" height="4.6" fill="#85bb6b"/><rect x="425.8" y="154.8" width="4.6" height="4.6" fill="#9fb26e"/><rect x="430.3" y="154.8" width="4.6" height="4.6" fill="#caa36b"/><rect x="434.8" y="154.8" width="4.6" height="4.6" fill="#e5a877"/><rect x="439.3" y="154.8" width="4.6" height="4.6" fill="#e2a474"/><rect x="443.8" y="154.8" width="4.6" height="4.6" fill="#8e7539"/><rect x="448.3" y="154.8" width="4.6" height="4.6" fill="#9e8b49"/><rect x="452.8" y="154.8" width="4.6" height="4.6" fill="#aaa15a"/><rect x="457.2" y="154.8" width="4.6" height="4.6" fill="#9ab362"/><rect x="461.7" y="154.8" width="4.6" height="4.6" fill="#9fc674"/><rect x="466.2" y="154.8" width="4.6" height="4.6" fill="#88cc73"/><rect x="470.7" y="154.8" width="4.6" height="4.6" fill="#7acd71"/><rect x="475.2" y="154.8" width="4.6" height="4.6" fill="#6cca6e"/><rect x="479.7" y="154.8" width="4.6" height="4.6" fill="#50c367"/><rect x="484.2" y="154.8" width="4.6" height="4.6" fill="#42b85d"/><rect x="488.7" y="154.8" width="4.6" height="4.6" fill="#3eb05d"/><rect x="493.2" y="154.8" width="4.6" height="4.6" fill="#3bae57"/><rect x="497.7" y="154.8" width="4.6" height="4.6" fill="#319c44"/><rect x="502.2" y="154.8" width="4.6" height="4.6" fill="#268a32"/><rect x="506.7" y="154.8" width="4.6" height="4.6" fill="#2c943b"/><rect x="511.1" y="154.8" width="4.6" height="4.6" fill="#2e963d"/><rect x="398.9" y="159.3" width="4.6" height="4.6" fill="#f2f8fd"/><rect x="403.3" y="159.3" width="4.6" height="4.6" fill="#1e881c"/><rect x="407.8" y="159.3" width="4.6" height="4.6" fill="#339e32"/><rect x="412.3" y="159.3" width="4.6" height="4.6" fill="#3da93d"/><rect x="416.8" y="159.3" width="4.6" height="4.6" fill="#41aa3f"/><rect x="421.3" y="159.3" width="4.6" height="4.6" fill="#8dbb72"/><rect x="425.8" y="159.3" width="4.6" height="4.6" fill="#8ebb72"/><rect x="430.3" y="159.3" width="4.6" height="4.6" fill="#d6a871"/><rect x="434.8" y="159.3" width="4.6" height="4.6" fill="#d7a771"/><rect x="439.3" y="159.3" width="4.6" height="4.6" fill="#d99f6e"/><rect x="443.8" y="159.3" width="4.6" height="4.6" fill="#705e1e"/><rect x="448.3" y="159.3" width="4.6" height="4.6" fill="#91813c"/><rect x="452.8" y="159.3" width="4.6" height="4.6" fill="#b1a960"/><rect x="457.2" y="159.3" width="4.6" height="4.6" fill="#a8d683"/><rect x="461.7" y="159.3" width="4.6" height="4.6" fill="#a8d683"/><rect x="466.2" y="159.3" width="4.6" height="4.6" fill="#7ccd74"/><rect x="470.7" y="159.3" width="4.6" height="4.6" fill="#71cd71"/><rect x="475.2" y="159.3" width="4.6" height="4.6" fill="#70cd71"/><rect x="479.7" y="159.3" width="4.6" height="4.6" fill="#41b55a"/><rect x="484.2" y="159.3" width="4.6" height="4.6" fill="#3cb257"/><rect x="488.7" y="159.3" width="4.6" height="4.6" fill="#3cb156"/><rect x="493.2" y="159.3" width="4.6" height="4.6" fill="#2f983f"/><rect x="497.7" y="159.3" width="4.6" height="4.6" fill="#2e973e"/><rect x="502.2" y="159.3" width="4.6" height="4.6" fill="#23862e"/><rect x="506.7" y="159.3" width="4.6" height="4.6" fill="#23852e"/><rect x="398.9" y="163.8" width="4.6" height="4.6" fill="#f2f8fd"/><rect x="403.3" y="163.8" width="4.6" height="4.6" fill="#21881f"/><rect x="407.8" y="163.8" width="4.6" height="4.6" fill="#238821"/><rect x="412.3" y="163.8" width="4.6" height="4.6" fill="#3fa63e"/><rect x="416.8" y="163.8" width="4.6" height="4.6" fill="#46a946"/><rect x="421.3" y="163.8" width="4.6" height="4.6" fill="#80b673"/><rect x="425.8" y="163.8" width="4.6" height="4.6" fill="#96bb8c"/><rect x="430.3" y="163.8" width="4.6" height="4.6" fill="#b8af7b"/><rect x="434.8" y="163.8" width="4.6" height="4.6" fill="#c3a871"/><rect x="439.3" y="163.8" width="4.6" height="4.6" fill="#76702d"/><rect x="443.8" y="163.8" width="4.6" height="4.6" fill="#676620"/><rect x="448.3" y="163.8" width="4.6" height="4.6" fill="#838a3c"/><rect x="452.8" y="163.8" width="4.6" height="4.6" fill="#9ed178"/><rect x="457.2" y="163.8" width="4.6" height="4.6" fill="#a2d37f"/><rect x="461.7" y="163.8" width="4.6" height="4.6" fill="#82cf76"/><rect x="466.2" y="163.8" width="4.6" height="4.6" fill="#71cd71"/><rect x="470.7" y="163.8" width="4.6" height="4.6" fill="#6fcc70"/><rect x="475.2" y="163.8" width="4.6" height="4.6" fill="#4bbe62"/><rect x="479.7" y="163.8" width="4.6" height="4.6" fill="#45bb60"/><rect x="484.2" y="163.8" width="4.6" height="4.6" fill="#3cb156"/><rect x="488.7" y="163.8" width="4.6" height="4.6" fill="#2f9940"/><rect x="493.2" y="163.8" width="4.6" height="4.6" fill="#2f973e"/><rect x="497.7" y="163.8" width="4.6" height="4.6" fill="#2f8f3a"/><rect x="502.2" y="163.8" width="4.6" height="4.6" fill="#288832"/><rect x="506.7" y="163.8" width="4.6" height="4.6" fill="#24862f"/><rect x="403.3" y="168.3" width="4.6" height="4.6" fill="#228820"/><rect x="407.8" y="168.3" width="4.6" height="4.6" fill="#228820"/><rect x="412.3" y="168.3" width="4.6" height="4.6" fill="#40a440"/><rect x="416.8" y="168.3" width="4.6" height="4.6" fill="#46a946"/><rect x="421.3" y="168.3" width="4.6" height="4.6" fill="#79b474"/><rect x="425.8" y="168.3" width="4.6" height="4.6" fill="#97bb8e"/><rect x="430.3" y="168.3" width="4.6" height="4.6" fill="#95b997"/><rect x="434.8" y="168.3" width="4.6" height="4.6" fill="#c4a972"/><rect x="439.3" y="168.3" width="4.6" height="4.6" fill="#6d6b27"/><rect x="443.8" y="168.3" width="4.6" height="4.6" fill="#6b6d24"/><rect x="448.3" y="168.3" width="4.6" height="4.6" fill="#889440"/><rect x="452.8" y="168.3" width="4.6" height="4.6" fill="#9edf82"/><rect x="457.2" y="168.3" width="4.6" height="4.6" fill="#9adc80"/><rect x="461.7" y="168.3" width="4.6" height="4.6" fill="#71cc71"/><rect x="466.2" y="168.3" width="4.6" height="4.6" fill="#71cd71"/><rect x="470.7" y="168.3" width="4.6" height="4.6" fill="#66c86c"/><rect x="475.2" y="168.3" width="4.6" height="4.6" fill="#45bb60"/><rect x="479.7" y="168.3" width="4.6" height="4.6" fill="#45bb60"/><rect x="484.2" y="168.3" width="4.6" height="4.6" fill="#39a74d"/><rect x="488.7" y="168.3" width="4.6" height="4.6" fill="#2f973e"/><rect x="493.2" y="168.3" width="4.6" height="4.6" fill="#2f973e"/><rect x="497.7" y="168.3" width="4.6" height="4.6" fill="#308836"/><rect x="502.2" y="168.3" width="4.6" height="4.6" fill="#308836"/><rect x="506.7" y="168.3" width="4.6" height="4.6" fill="#2d8835"/><rect x="403.3" y="172.8" width="4.6" height="4.6" fill="#f2f8fd"/><rect x="407.8" y="172.8" width="4.6" height="4.6" fill="#2d982d"/><rect x="412.3" y="172.8" width="4.6" height="4.6" fill="#2e9a2e"/><rect x="416.8" y="172.8" width="4.6" height="4.6" fill="#48a648"/><rect x="421.3" y="172.8" width="4.6" height="4.6" fill="#4fa94f"/><rect x="425.8" y="172.8" width="4.6" height="4.6" fill="#88ba95"/><rect x="430.3" y="172.8" width="4.6" height="4.6" fill="#8dbb9d"/><rect x="434.8" y="172.8" width="4.6" height="4.6" fill="#a8ba7c"/><rect x="439.3" y="172.8" width="4.6" height="4.6" fill="#a4b572"/><rect x="443.8" y="172.8" width="4.6" height="4.6" fill="#96a857"/><rect x="448.3" y="172.8" width="4.6" height="4.6" fill="#86c067"/><rect x="452.8" y="172.8" width="4.6" height="4.6" fill="#85ce72"/><rect x="457.2" y="172.8" width="4.6" height="4.6" fill="#75cb6f"/><rect x="461.7" y="172.8" width="4.6" height="4.6" fill="#5fc469"/><rect x="466.2" y="172.8" width="4.6" height="4.6" fill="#61c569"/><rect x="470.7" y="172.8" width="4.6" height="4.6" fill="#40b459"/><rect x="475.2" y="172.8" width="4.6" height="4.6" fill="#3cb257"/><rect x="479.7" y="172.8" width="4.6" height="4.6" fill="#38a94f"/><rect x="484.2" y="172.8" width="4.6" height="4.6" fill="#2f973e"/><rect x="488.7" y="172.8" width="4.6" height="4.6" fill="#2f973e"/><rect x="493.2" y="172.8" width="4.6" height="4.6" fill="#2f933c"/><rect x="497.7" y="172.8" width="4.6" height="4.6" fill="#308836"/><rect x="407.8" y="177.3" width="4.6" height="4.6" fill="#2e9931"/><rect x="412.3" y="177.3" width="4.6" height="4.6" fill="#2e9a31"/><rect x="416.8" y="177.3" width="4.6" height="4.6" fill="#45a54b"/><rect x="421.3" y="177.3" width="4.6" height="4.6" fill="#50ab51"/><rect x="425.8" y="177.3" width="4.6" height="4.6" fill="#7fbc86"/><rect x="430.3" y="177.3" width="4.6" height="4.6" fill="#87bf8d"/><rect x="434.8" y="177.3" width="4.6" height="4.6" fill="#abbe7e"/><rect x="439.3" y="177.3" width="4.6" height="4.6" fill="#a0ae6b"/><rect x="443.8" y="177.3" width="4.6" height="4.6" fill="#8c9b4d"/><rect x="448.3" y="177.3" width="4.6" height="4.6" fill="#83bf66"/><rect x="452.8" y="177.3" width="4.6" height="4.6" fill="#83cc70"/><rect x="457.2" y="177.3" width="4.6" height="4.6" fill="#59bf64"/><rect x="461.7" y="177.3" width="4.6" height="4.6" fill="#5fc468"/><rect x="466.2" y="177.3" width="4.6" height="4.6" fill="#4eb660"/><rect x="470.7" y="177.3" width="4.6" height="4.6" fill="#39a853"/><rect x="475.2" y="177.3" width="4.6" height="4.6" fill="#3cb157"/><rect x="479.7" y="177.3" width="4.6" height="4.6" fill="#36a54c"/><rect x="484.2" y="177.3" width="4.6" height="4.6" fill="#2f973e"/><rect x="488.7" y="177.3" width="4.6" height="4.6" fill="#2f973e"/><rect x="493.2" y="177.3" width="4.6" height="4.6" fill="#2f953d"/><rect x="407.8" y="181.8" width="4.6" height="4.6" fill="#f2f8fd"/><rect x="412.3" y="181.8" width="4.6" height="4.6" fill="#2e9a50"/><rect x="416.8" y="181.8" width="4.6" height="4.6" fill="#349e52"/><rect x="421.3" y="181.8" width="4.6" height="4.6" fill="#5fc469"/><rect x="425.8" y="181.8" width="4.6" height="4.6" fill="#69c86e"/><rect x="430.3" y="181.8" width="4.6" height="4.6" fill="#9ee88b"/><rect x="434.8" y="181.8" width="4.6" height="4.6" fill="#dcd294"/><rect x="439.3" y="181.8" width="4.6" height="4.6" fill="#c3ba7c"/><rect x="443.8" y="181.8" width="4.6" height="4.6" fill="#646b26"/><rect x="448.3" y="181.8" width="4.6" height="4.6" fill="#84bb60"/><rect x="452.8" y="181.8" width="4.6" height="4.6" fill="#7ebb60"/><rect x="457.2" y="181.8" width="4.6" height="4.6" fill="#4ebb60"/><rect x="461.7" y="181.8" width="4.6" height="4.6" fill="#4bb75e"/><rect x="466.2" y="181.8" width="4.6" height="4.6" fill="#3da958"/><rect x="470.7" y="181.8" width="4.6" height="4.6" fill="#319b4a"/><rect x="475.2" y="181.8" width="4.6" height="4.6" fill="#2f9747"/><rect x="479.7" y="181.8" width="4.6" height="4.6" fill="#319b49"/><rect x="484.2" y="181.8" width="4.6" height="4.6" fill="#309941"/><rect x="412.3" y="186.3" width="4.6" height="4.6" fill="#f2f8fd"/><rect x="416.8" y="186.3" width="4.6" height="4.6" fill="#318b49"/><rect x="421.3" y="186.3" width="4.6" height="4.6" fill="#54b35f"/><rect x="425.8" y="186.3" width="4.6" height="4.6" fill="#5ab25f"/><rect x="430.3" y="186.3" width="4.6" height="4.6" fill="#8fcf7c"/><rect x="434.8" y="186.3" width="4.6" height="4.6" fill="#c5c78a"/><rect x="439.3" y="186.3" width="4.6" height="4.6" fill="#9b9b5c"/><rect x="443.8" y="186.3" width="4.6" height="4.6" fill="#58631f"/><rect x="448.3" y="186.3" width="4.6" height="4.6" fill="#74aa52"/><rect x="452.8" y="186.3" width="4.6" height="4.6" fill="#66b359"/><rect x="457.2" y="186.3" width="4.6" height="4.6" fill="#4eb45a"/><rect x="461.7" y="186.3" width="4.6" height="4.6" fill="#3fa351"/><rect x="466.2" y="186.3" width="4.6" height="4.6" fill="#3da755"/><rect x="470.7" y="186.3" width="4.6" height="4.6" fill="#349e4d"/><rect x="475.2" y="186.3" width="4.6" height="4.6" fill="#2f9848"/><rect x="416.8" y="190.8" width="4.6" height="4.6" fill="#f2f8fd"/><rect x="421.3" y="190.8" width="4.6" height="4.6" fill="#4da757"/><rect x="425.8" y="190.8" width="4.6" height="4.6" fill="#50aa59"/><rect x="430.3" y="190.8" width="4.6" height="4.6" fill="#8dcd7a"/><rect x="434.8" y="190.8" width="4.6" height="4.6" fill="#cac48c"/><rect x="439.3" y="190.8" width="4.6" height="4.6" fill="#ada96e"/><rect x="443.8" y="190.8" width="4.6" height="4.6" fill="#535d1a"/><rect x="448.3" y="190.8" width="4.6" height="4.6" fill="#72b157"/><rect x="452.8" y="190.8" width="4.6" height="4.6" fill="#60b257"/><rect x="457.2" y="190.8" width="4.6" height="4.6" fill="#4eb257"/><rect x="461.7" y="190.8" width="4.6" height="4.6" fill="#3ea04f"/><rect x="466.2" y="190.8" width="4.6" height="4.6" fill="#3ea050"/><rect x="421.3" y="195.3" width="4.6" height="4.6" fill="#f2f8fd"/><rect x="425.8" y="195.3" width="4.6" height="4.6" fill="#529c52"/><rect x="430.3" y="195.3" width="4.6" height="4.6" fill="#76ac63"/><rect x="434.8" y="195.3" width="4.6" height="4.6" fill="#b0b978"/><rect x="439.3" y="195.3" width="4.6" height="4.6" fill="#a0a761"/><rect x="443.8" y="195.3" width="4.6" height="4.6" fill="#879747"/><rect x="448.3" y="195.3" width="4.6" height="4.6" fill="#66a64d"/><rect x="452.8" y="195.3" width="4.6" height="4.6" fill="#52a64c"/><rect x="457.2" y="195.3" width="4.6" height="4.6" fill="#40a248"/><rect x="461.7" y="195.3" width="4.6" height="4.6" fill="#3fa24e"/><rect x="425.8" y="199.8" width="4.6" height="4.6" fill="#49934c"/><rect x="430.3" y="199.8" width="4.6" height="4.6" fill="#73a961"/><rect x="434.8" y="199.8" width="4.6" height="4.6" fill="#b7ba7a"/><rect x="439.3" y="199.8" width="4.6" height="4.6" fill="#b7b978"/><rect x="443.8" y="199.8" width="4.6" height="4.6" fill="#879848"/><rect x="448.3" y="199.8" width="4.6" height="4.6" fill="#61a94f"/><rect x="452.8" y="199.8" width="4.6" height="4.6" fill="#4fa44b"/><rect x="457.2" y="199.8" width="4.6" height="4.6" fill="#3ea046"/><rect x="461.7" y="199.8" width="4.6" height="4.6" fill="#3d9d45"/><rect x="425.8" y="204.3" width="4.6" height="4.6" fill="#438949"/><rect x="430.3" y="204.3" width="4.6" height="4.6" fill="#438949"/><rect x="434.8" y="204.3" width="4.6" height="4.6" fill="#a6b971"/><rect x="439.3" y="204.3" width="4.6" height="4.6" fill="#a2b86d"/><rect x="443.8" y="204.3" width="4.6" height="4.6" fill="#85a958"/><rect x="448.3" y="204.3" width="4.6" height="4.6" fill="#56a249"/><rect x="452.8" y="204.3" width="4.6" height="4.6" fill="#4e9f46"/><rect x="457.2" y="204.3" width="4.6" height="4.6" fill="#308836"/><rect x="461.7" y="204.3" width="4.6" height="4.6" fill="#318937"/><rect x="592.0" y="204.3" width="4.6" height="4.6" fill="#31a048"/><rect x="596.5" y="204.3" width="4.6" height="4.6" fill="#37a64c"/><rect x="601.0" y="204.3" width="4.6" height="4.6" fill="#4eb55b"/><rect x="605.5" y="204.3" width="4.6" height="4.6" fill="#57ba60"/><rect x="430.3" y="208.8" width="4.6" height="4.6" fill="#428848"/><rect x="434.8" y="208.8" width="4.6" height="4.6" fill="#86ae65"/><rect x="439.3" y="208.8" width="4.6" height="4.6" fill="#9cb56b"/><rect x="443.8" y="208.8" width="4.6" height="4.6" fill="#82a958"/><rect x="448.3" y="208.8" width="4.6" height="4.6" fill="#53a14b"/><rect x="452.8" y="208.8" width="4.6" height="4.6" fill="#4c9e45"/><rect x="457.2" y="208.8" width="4.6" height="4.6" fill="#308837"/><rect x="461.7" y="208.8" width="4.6" height="4.6" fill="#308838"/><rect x="466.2" y="208.8" width="4.6" height="4.6" fill="#31893d"/><rect x="583.0" y="208.8" width="4.6" height="4.6" fill="#2f9747"/><rect x="587.5" y="208.8" width="4.6" height="4.6" fill="#2f9847"/><rect x="592.0" y="208.8" width="4.6" height="4.6" fill="#2ea047"/><rect x="596.5" y="208.8" width="4.6" height="4.6" fill="#2fa147"/><rect x="601.0" y="208.8" width="4.6" height="4.6" fill="#54b95e"/><rect x="605.5" y="208.8" width="4.6" height="4.6" fill="#57bb60"/><rect x="610.0" y="208.8" width="4.6" height="4.6" fill="#65bb67"/><rect x="614.5" y="208.8" width="4.6" height="4.6" fill="#69bb69"/><rect x="618.9" y="208.8" width="4.6" height="4.6" fill="#6abc6a"/><rect x="434.8" y="213.4" width="4.6" height="4.6" fill="#529a50"/><rect x="439.3" y="213.4" width="4.6" height="4.6" fill="#589c52"/><rect x="443.8" y="213.4" width="4.6" height="4.6" fill="#50a050"/><rect x="448.3" y="213.4" width="4.6" height="4.6" fill="#4fa04f"/><rect x="452.8" y="213.4" width="4.6" height="4.6" fill="#318940"/><rect x="457.2" y="213.4" width="4.6" height="4.6" fill="#30883f"/><rect x="461.7" y="213.4" width="4.6" height="4.6" fill="#31883f"/><rect x="466.2" y="213.4" width="4.6" height="4.6" fill="#30883f"/><rect x="470.7" y="213.4" width="4.6" height="4.6" fill="#30883f"/><rect x="475.2" y="213.4" width="4.6" height="4.6" fill="#30883f"/><rect x="583.0" y="213.4" width="4.6" height="4.6" fill="#2e9747"/><rect x="587.5" y="213.4" width="4.6" height="4.6" fill="#2e9747"/><rect x="592.0" y="213.4" width="4.6" height="4.6" fill="#2ea047"/><rect x="596.5" y="213.4" width="4.6" height="4.6" fill="#2ea047"/><rect x="601.0" y="213.4" width="4.6" height="4.6" fill="#55ba5f"/><rect x="605.5" y="213.4" width="4.6" height="4.6" fill="#57bb60"/><rect x="610.0" y="213.4" width="4.6" height="4.6" fill="#67bb68"/><rect x="614.5" y="213.4" width="4.6" height="4.6" fill="#69bb69"/><rect x="618.9" y="213.4" width="4.6" height="4.6" fill="#6cbc6b"/><rect x="623.4" y="213.4" width="4.6" height="4.6" fill="#8dca7b"/><rect x="627.9" y="213.4" width="4.6" height="4.6" fill="#9dcf84"/><rect x="443.8" y="217.9" width="4.6" height="4.6" fill="#52a050"/><rect x="448.3" y="217.9" width="4.6" height="4.6" fill="#4e9e4f"/><rect x="452.8" y="217.9" width="4.6" height="4.6" fill="#3b8e4d"/><rect x="457.2" y="217.9" width="4.6" height="4.6" fill="#3f8e56"/><rect x="461.7" y="217.9" width="4.6" height="4.6" fill="#3f8e56"/><rect x="466.2" y="217.9" width="4.6" height="4.6" fill="#348945"/><rect x="583.0" y="217.9" width="4.6" height="4.6" fill="#2e9747"/><rect x="587.5" y="217.9" width="4.6" height="4.6" fill="#2e9847"/><rect x="592.0" y="217.9" width="4.6" height="4.6" fill="#2ca047"/><rect x="596.5" y="217.9" width="4.6" height="4.6" fill="#2fa349"/><rect x="601.0" y="217.9" width="4.6" height="4.6" fill="#4dc166"/><rect x="605.5" y="217.9" width="4.6" height="4.6" fill="#52c267"/><rect x="610.0" y="217.9" width="4.6" height="4.6" fill="#7dca77"/><rect x="614.5" y="217.9" width="4.6" height="4.6" fill="#7ec976"/><rect x="618.9" y="217.9" width="4.6" height="4.6" fill="#99cf81"/><rect x="623.4" y="217.9" width="4.6" height="4.6" fill="#9fd183"/><rect x="627.9" y="217.9" width="4.6" height="4.6" fill="#a4d189"/><rect x="632.4" y="217.9" width="4.6" height="4.6" fill="#a7d18c"/><rect x="636.9" y="217.9" width="4.6" height="4.6" fill="#a3ce89"/><rect x="448.3" y="222.4" width="4.6" height="4.6" fill="#479553"/><rect x="452.8" y="222.4" width="4.6" height="4.6" fill="#418e59"/><rect x="457.2" y="222.4" width="4.6" height="4.6" fill="#418e59"/><rect x="583.0" y="222.4" width="4.6" height="4.6" fill="#2e9747"/><rect x="587.5" y="222.4" width="4.6" height="4.6" fill="#2e9847"/><rect x="592.0" y="222.4" width="4.6" height="4.6" fill="#2ca047"/><rect x="596.5" y="222.4" width="4.6" height="4.6" fill="#2da248"/><rect x="601.0" y="222.4" width="4.6" height="4.6" fill="#4dc469"/><rect x="605.5" y="222.4" width="4.6" height="4.6" fill="#4ec469"/><rect x="610.0" y="222.4" width="4.6" height="4.6" fill="#83cd7a"/><rect x="614.5" y="222.4" width="4.6" height="4.6" fill="#84cd7a"/><rect x="618.9" y="222.4" width="4.6" height="4.6" fill="#9fd183"/><rect x="623.4" y="222.4" width="4.6" height="4.6" fill="#9fd283"/><rect x="627.9" y="222.4" width="4.6" height="4.6" fill="#a7d18c"/><rect x="632.4" y="222.4" width="4.6" height="4.6" fill="#a8d18c"/><rect x="636.9" y="222.4" width="4.6" height="4.6" fill="#a1cd88"/><rect x="641.4" y="222.4" width="4.6" height="4.6" fill="#72b46b"/><rect x="583.0" y="226.9" width="4.6" height="4.6" fill="#2e9947"/><rect x="587.5" y="226.9" width="4.6" height="4.6" fill="#2f9c48"/><rect x="592.0" y="226.9" width="4.6" height="4.6" fill="#33a84e"/><rect x="596.5" y="226.9" width="4.6" height="4.6" fill="#35aa50"/><rect x="601.0" y="226.9" width="4.6" height="4.6" fill="#45c460"/><rect x="605.5" y="226.9" width="4.6" height="4.6" fill="#48c562"/><rect x="610.0" y="226.9" width="4.6" height="4.6" fill="#91d481"/><rect x="614.5" y="226.9" width="4.6" height="4.6" fill="#94d582"/><rect x="618.9" y="226.9" width="4.6" height="4.6" fill="#b4d992"/><rect x="623.4" y="226.9" width="4.6" height="4.6" fill="#b7d993"/><rect x="627.9" y="226.9" width="4.6" height="4.6" fill="#a0c684"/><rect x="632.4" y="226.9" width="4.6" height="4.6" fill="#9cc381"/><rect x="636.9" y="226.9" width="4.6" height="4.6" fill="#6faf69"/><rect x="641.4" y="226.9" width="4.6" height="4.6" fill="#61aa61"/><rect x="645.9" y="226.9" width="4.6" height="4.6" fill="#50b158"/><rect x="650.4" y="226.9" width="4.6" height="4.6" fill="#4eb257"/><rect x="583.0" y="231.4" width="4.6" height="4.6" fill="#2e9947"/><rect x="587.5" y="231.4" width="4.6" height="4.6" fill="#2f9b47"/><rect x="592.0" y="231.4" width="4.6" height="4.6" fill="#34a94f"/><rect x="596.5" y="231.4" width="4.6" height="4.6" fill="#35aa50"/><rect x="601.0" y="231.4" width="4.6" height="4.6" fill="#44c45f"/><rect x="605.5" y="231.4" width="4.6" height="4.6" fill="#46c460"/><rect x="610.0" y="231.4" width="4.6" height="4.6" fill="#95d683"/><rect x="614.5" y="231.4" width="4.6" height="4.6" fill="#96d683"/><rect x="618.9" y="231.4" width="4.6" height="4.6" fill="#b9da95"/><rect x="623.4" y="231.4" width="4.6" height="4.6" fill="#bada95"/><rect x="627.9" y="231.4" width="4.6" height="4.6" fill="#9cbe7f"/><rect x="632.4" y="231.4" width="4.6" height="4.6" fill="#97bb7b"/><rect x="636.9" y="231.4" width="4.6" height="4.6" fill="#62aa62"/><rect x="641.4" y="231.4" width="4.6" height="4.6" fill="#61a961"/><rect x="645.9" y="231.4" width="4.6" height="4.6" fill="#4fb258"/><rect x="650.4" y="231.4" width="4.6" height="4.6" fill="#4eb257"/><rect x="654.9" y="231.4" width="4.6" height="4.6" fill="#46aa50"/><rect x="659.4" y="231.4" width="4.6" height="4.6" fill="#46a94f"/><rect x="663.9" y="231.4" width="4.6" height="4.6" fill="#41a147"/><rect x="668.4" y="231.4" width="4.6" height="4.6" fill="#30882c"/><rect x="583.0" y="235.9" width="4.6" height="4.6" fill="#228e36"/><rect x="587.5" y="235.9" width="4.6" height="4.6" fill="#25933a"/><rect x="592.0" y="235.9" width="4.6" height="4.6" fill="#34a94f"/><rect x="596.5" y="235.9" width="4.6" height="4.6" fill="#34aa4f"/><rect x="601.0" y="235.9" width="4.6" height="4.6" fill="#4cbc5f"/><rect x="605.5" y="235.9" width="4.6" height="4.6" fill="#4ebb60"/><rect x="610.0" y="235.9" width="4.6" height="4.6" fill="#7bcb74"/><rect x="614.5" y="235.9" width="4.6" height="4.6" fill="#9fd683"/><rect x="618.9" y="235.9" width="4.6" height="4.6" fill="#c7e3a5"/><rect x="623.4" y="235.9" width="4.6" height="4.6" fill="#d1d9a6"/><rect x="627.9" y="235.9" width="4.6" height="4.6" fill="#d6c49f"/><rect x="632.4" y="235.9" width="4.6" height="4.6" fill="#9cac7f"/><rect x="636.9" y="235.9" width="4.6" height="4.6" fill="#93a97a"/><rect x="641.4" y="235.9" width="4.6" height="4.6" fill="#47a059"/><rect x="645.9" y="235.9" width="4.6" height="4.6" fill="#47a359"/><rect x="650.4" y="235.9" width="4.6" height="4.6" fill="#3db257"/><rect x="654.9" y="235.9" width="4.6" height="4.6" fill="#3db156"/><rect x="659.4" y="235.9" width="4.6" height="4.6" fill="#39943c"/><rect x="663.9" y="235.9" width="4.6" height="4.6" fill="#358d36"/><rect x="668.4" y="235.9" width="4.6" height="4.6" fill="#2b8123"/><rect x="672.8" y="235.9" width="4.6" height="4.6" fill="#2b8225"/><rect x="583.0" y="240.4" width="4.6" height="4.6" fill="#228e36"/><rect x="587.5" y="240.4" width="4.6" height="4.6" fill="#25933a"/><rect x="592.0" y="240.4" width="4.6" height="4.6" fill="#34a94f"/><rect x="596.5" y="240.4" width="4.6" height="4.6" fill="#34aa4f"/><rect x="601.0" y="240.4" width="4.6" height="4.6" fill="#4cba5f"/><rect x="605.5" y="240.4" width="4.6" height="4.6" fill="#4ebb60"/><rect x="610.0" y="240.4" width="4.6" height="4.6" fill="#79ca73"/><rect x="614.5" y="240.4" width="4.6" height="4.6" fill="#9fd684"/><rect x="618.9" y="240.4" width="4.6" height="4.6" fill="#d5e8b0"/><rect x="623.4" y="240.4" width="4.6" height="4.6" fill="#d5e4ae"/><rect x="627.9" y="240.4" width="4.6" height="4.6" fill="#d5c39e"/><rect x="632.4" y="240.4" width="4.6" height="4.6" fill="#9ead80"/><rect x="636.9" y="240.4" width="4.6" height="4.6" fill="#92a97a"/><rect x="641.4" y="240.4" width="4.6" height="4.6" fill="#48a159"/><rect x="645.9" y="240.4" width="4.6" height="4.6" fill="#49a55b"/><rect x="650.4" y="240.4" width="4.6" height="4.6" fill="#3db358"/><rect x="654.9" y="240.4" width="4.6" height="4.6" fill="#3eb258"/><rect x="659.4" y="240.4" width="4.6" height="4.6" fill="#358e37"/><rect x="663.9" y="240.4" width="4.6" height="4.6" fill="#348d36"/><rect x="668.4" y="240.4" width="4.6" height="4.6" fill="#2b8123"/><rect x="672.8" y="240.4" width="4.6" height="4.6" fill="#2e862b"/><rect x="578.5" y="244.9" width="4.6" height="4.6" fill="#228e36"/><rect x="583.0" y="244.9" width="4.6" height="4.6" fill="#228e36"/><rect x="587.5" y="244.9" width="4.6" height="4.6" fill="#249239"/><rect x="592.0" y="244.9" width="4.6" height="4.6" fill="#34a94f"/><rect x="596.5" y="244.9" width="4.6" height="4.6" fill="#34a94f"/><rect x="601.0" y="244.9" width="4.6" height="4.6" fill="#4dba5f"/><rect x="605.5" y="244.9" width="4.6" height="4.6" fill="#4ebb60"/><rect x="610.0" y="244.9" width="4.6" height="4.6" fill="#75c973"/><rect x="614.5" y="244.9" width="4.6" height="4.6" fill="#96d683"/><rect x="618.9" y="244.9" width="4.6" height="4.6" fill="#dde8b0"/><rect x="623.4" y="244.9" width="4.6" height="4.6" fill="#dce1ab"/><rect x="627.9" y="244.9" width="4.6" height="4.6" fill="#cdb18d"/><rect x="632.4" y="244.9" width="4.6" height="4.6" fill="#89aa75"/><rect x="636.9" y="244.9" width="4.6" height="4.6" fill="#85aa73"/><rect x="641.4" y="244.9" width="4.6" height="4.6" fill="#60bb69"/><rect x="645.9" y="244.9" width="4.6" height="4.6" fill="#5fbb69"/><rect x="650.4" y="244.9" width="4.6" height="4.6" fill="#4dc469"/><rect x="654.9" y="244.9" width="4.6" height="4.6" fill="#4dc468"/><rect x="659.4" y="244.9" width="4.6" height="4.6" fill="#36973e"/><rect x="663.9" y="244.9" width="4.6" height="4.6" fill="#34953c"/><rect x="668.4" y="244.9" width="4.6" height="4.6" fill="#348f36"/><rect x="672.8" y="244.9" width="4.6" height="4.6" fill="#358d36"/><rect x="677.3" y="244.9" width="4.6" height="4.6" fill="#31892f"/><rect x="578.5" y="249.4" width="4.6" height="4.6" fill="#228f36"/><rect x="583.0" y="249.4" width="4.6" height="4.6" fill="#228e36"/><rect x="587.5" y="249.4" width="4.6" height="4.6" fill="#26943a"/><rect x="592.0" y="249.4" width="4.6" height="4.6" fill="#34a94c"/><rect x="596.5" y="249.4" width="4.6" height="4.6" fill="#35aa4c"/><rect x="601.0" y="249.4" width="4.6" height="4.6" fill="#4cb65b"/><rect x="605.5" y="249.4" width="4.6" height="4.6" fill="#4fb85e"/><rect x="610.0" y="249.4" width="4.6" height="4.6" fill="#77c772"/><rect x="614.5" y="249.4" width="4.6" height="4.6" fill="#9bd585"/><rect x="618.9" y="249.4" width="4.6" height="4.6" fill="#d2e2a7"/><rect x="623.4" y="249.4" width="4.6" height="4.6" fill="#d8d3a2"/><rect x="627.9" y="249.4" width="4.6" height="4.6" fill="#c8ac87"/><rect x="632.4" y="249.4" width="4.6" height="4.6" fill="#a6946d"/><rect x="636.9" y="249.4" width="4.6" height="4.6" fill="#87ac72"/><rect x="641.4" y="249.4" width="4.6" height="4.6" fill="#67bb6b"/><rect x="645.9" y="249.4" width="4.6" height="4.6" fill="#77c774"/><rect x="650.4" y="249.4" width="4.6" height="4.6" fill="#53c46a"/><rect x="654.9" y="249.4" width="4.6" height="4.6" fill="#58c368"/><rect x="659.4" y="249.4" width="4.6" height="4.6" fill="#46a74e"/><rect x="663.9" y="249.4" width="4.6" height="4.6" fill="#3c9b45"/><rect x="668.4" y="249.4" width="4.6" height="4.6" fill="#3f9a45"/><rect x="672.8" y="249.4" width="4.6" height="4.6" fill="#358f38"/><rect x="677.3" y="249.4" width="4.6" height="4.6" fill="#318a31"/><rect x="681.8" y="249.4" width="4.6" height="4.6" fill="#30882d"/><rect x="578.5" y="253.9" width="4.6" height="4.6" fill="#228f36"/><rect x="583.0" y="253.9" width="4.6" height="4.6" fill="#228e36"/><rect x="587.5" y="253.9" width="4.6" height="4.6" fill="#249138"/><rect x="592.0" y="253.9" width="4.6" height="4.6" fill="#34a946"/><rect x="596.5" y="253.9" width="4.6" height="4.6" fill="#34a946"/><rect x="601.0" y="253.9" width="4.6" height="4.6" fill="#4eb257"/><rect x="605.5" y="253.9" width="4.6" height="4.6" fill="#4eb257"/><rect x="610.0" y="253.9" width="4.6" height="4.6" fill="#7ac36f"/><rect x="614.5" y="253.9" width="4.6" height="4.6" fill="#9fd283"/><rect x="618.9" y="253.9" width="4.6" height="4.6" fill="#d5dfa7"/><rect x="623.4" y="253.9" width="4.6" height="4.6" fill="#dacc9e"/><rect x="627.9" y="253.9" width="4.6" height="4.6" fill="#deb994"/><rect x="632.4" y="253.9" width="4.6" height="4.6" fill="#a98f6a"/><rect x="636.9" y="253.9" width="4.6" height="4.6" fill="#85b273"/><rect x="641.4" y="253.9" width="4.6" height="4.6" fill="#84ba75"/><rect x="645.9" y="253.9" width="4.6" height="4.6" fill="#84cd7a"/><rect x="650.4" y="253.9" width="4.6" height="4.6" fill="#74c972"/><rect x="654.9" y="253.9" width="4.6" height="4.6" fill="#5fc469"/><rect x="659.4" y="253.9" width="4.6" height="4.6" fill="#5dbf65"/><rect x="663.9" y="253.9" width="4.6" height="4.6" fill="#4fa958"/><rect x="668.4" y="253.9" width="4.6" height="4.6" fill="#4da856"/><rect x="672.8" y="253.9" width="4.6" height="4.6" fill="#35943e"/><rect x="677.3" y="253.9" width="4.6" height="4.6" fill="#35943e"/><rect x="681.8" y="253.9" width="4.6" height="4.6" fill="#2f8e36"/><rect x="578.5" y="258.4" width="4.6" height="4.6" fill="#229036"/><rect x="583.0" y="258.4" width="4.6" height="4.6" fill="#228f36"/><rect x="587.5" y="258.4" width="4.6" height="4.6" fill="#249137"/><rect x="592.0" y="258.4" width="4.6" height="4.6" fill="#37a845"/><rect x="596.5" y="258.4" width="4.6" height="4.6" fill="#3caa47"/><rect x="601.0" y="258.4" width="4.6" height="4.6" fill="#5db75b"/><rect x="605.5" y="258.4" width="4.6" height="4.6" fill="#61b95e"/><rect x="610.0" y="258.4" width="4.6" height="4.6" fill="#87c876"/><rect x="614.5" y="258.4" width="4.6" height="4.6" fill="#b8d994"/><rect x="618.9" y="258.4" width="4.6" height="4.6" fill="#d2da9e"/><rect x="623.4" y="258.4" width="4.6" height="4.6" fill="#dfc996"/><rect x="627.9" y="258.4" width="4.6" height="4.6" fill="#d9af82"/><rect x="632.4" y="258.4" width="4.6" height="4.6" fill="#806523"/><rect x="636.9" y="258.4" width="4.6" height="4.6" fill="#7c7431"/><rect x="641.4" y="258.4" width="4.6" height="4.6" fill="#8bac61"/><rect x="645.9" y="258.4" width="4.6" height="4.6" fill="#9fd683"/><rect x="650.4" y="258.4" width="4.6" height="4.6" fill="#9ed983"/><rect x="654.9" y="258.4" width="4.6" height="4.6" fill="#8bd67a"/><rect x="659.4" y="258.4" width="4.6" height="4.6" fill="#7ecb72"/><rect x="663.9" y="258.4" width="4.6" height="4.6" fill="#68b664"/><rect x="668.4" y="258.4" width="4.6" height="4.6" fill="#5eb15d"/><rect x="672.8" y="258.4" width="4.6" height="4.6" fill="#41a34a"/><rect x="677.3" y="258.4" width="4.6" height="4.6" fill="#3e9f46"/><rect x="681.8" y="258.4" width="4.6" height="4.6" fill="#308f36"/><rect x="578.5" y="262.9" width="4.6" height="4.6" fill="#229336"/><rect x="583.0" y="262.9" width="4.6" height="4.6" fill="#228f36"/><rect x="587.5" y="262.9" width="4.6" height="4.6" fill="#229036"/><rect x="592.0" y="262.9" width="4.6" height="4.6" fill="#3caa46"/><rect x="596.5" y="262.9" width="4.6" height="4.6" fill="#3daa46"/><rect x="601.0" y="262.9" width="4.6" height="4.6" fill="#67ba5f"/><rect x="605.5" y="262.9" width="4.6" height="4.6" fill="#6abb60"/><rect x="610.0" y="262.9" width="4.6" height="4.6" fill="#89cd74"/><rect x="614.5" y="262.9" width="4.6" height="4.6" fill="#c4df9e"/><rect x="618.9" y="262.9" width="4.6" height="4.6" fill="#e6d69e"/><rect x="623.4" y="262.9" width="4.6" height="4.6" fill="#edc48c"/><rect x="627.9" y="262.9" width="4.6" height="4.6" fill="#f1b078"/><rect x="632.4" y="262.9" width="4.6" height="4.6" fill="#7d5e19"/><rect x="636.9" y="262.9" width="4.6" height="4.6" fill="#7e6921"/><rect x="641.4" y="262.9" width="4.6" height="4.6" fill="#8b8e3b"/><rect x="645.9" y="262.9" width="4.6" height="4.6" fill="#b1df8b"/><rect x="650.4" y="262.9" width="4.6" height="4.6" fill="#afe28b"/><rect x="654.9" y="262.9" width="4.6" height="4.6" fill="#9edf82"/><rect x="659.4" y="262.9" width="4.6" height="4.6" fill="#9cd67b"/><rect x="663.9" y="262.9" width="4.6" height="4.6" fill="#72bb69"/><rect x="668.4" y="262.9" width="4.6" height="4.6" fill="#66b55d"/><rect x="672.8" y="262.9" width="4.6" height="4.6" fill="#46a94f"/><rect x="677.3" y="262.9" width="4.6" height="4.6" fill="#43a64c"/><rect x="681.8" y="262.9" width="4.6" height="4.6" fill="#308f37"/><rect x="686.3" y="262.9" width="4.6" height="4.6" fill="#2f8e36"/><rect x="583.0" y="267.4" width="4.6" height="4.6" fill="#219935"/><rect x="587.5" y="267.4" width="4.6" height="4.6" fill="#219935"/><rect x="592.0" y="267.4" width="4.6" height="4.6" fill="#3cb145"/><rect x="596.5" y="267.4" width="4.6" height="4.6" fill="#3cb245"/><rect x="601.0" y="267.4" width="4.6" height="4.6" fill="#5fbc5a"/><rect x="605.5" y="267.4" width="4.6" height="4.6" fill="#83cd71"/><rect x="610.0" y="267.4" width="4.6" height="4.6" fill="#86cd72"/><rect x="614.5" y="267.4" width="4.6" height="4.6" fill="#d5df9e"/><rect x="618.9" y="267.4" width="4.6" height="4.6" fill="#e2d397"/><rect x="623.4" y="267.4" width="4.6" height="4.6" fill="#f1c28a"/><rect x="627.9" y="267.4" width="4.6" height="4.6" fill="#f1b078"/><rect x="632.4" y="267.4" width="4.6" height="4.6" fill="#906523"/><rect x="636.9" y="267.4" width="4.6" height="4.6" fill="#896c25"/><rect x="641.4" y="267.4" width="4.6" height="4.6" fill="#8e963e"/><rect x="645.9" y="267.4" width="4.6" height="4.6" fill="#adde83"/><rect x="650.4" y="267.4" width="4.6" height="4.6" fill="#b0e88b"/><rect x="654.9" y="267.4" width="4.6" height="4.6" fill="#a1d87d"/><rect x="659.4" y="267.4" width="4.6" height="4.6" fill="#9fd67a"/><rect x="663.9" y="267.4" width="4.6" height="4.6" fill="#70ba62"/><rect x="668.4" y="267.4" width="4.6" height="4.6" fill="#61b258"/><rect x="672.8" y="267.4" width="4.6" height="4.6" fill="#52ad52"/><rect x="677.3" y="267.4" width="4.6" height="4.6" fill="#3ea047"/><rect x="681.8" y="267.4" width="4.6" height="4.6" fill="#3a9c42"/><rect x="686.3" y="267.4" width="4.6" height="4.6" fill="#2f8e36"/><rect x="583.0" y="271.9" width="4.6" height="4.6" fill="#219a35"/><rect x="587.5" y="271.9" width="4.6" height="4.6" fill="#219a35"/><rect x="592.0" y="271.9" width="4.6" height="4.6" fill="#44b145"/><rect x="596.5" y="271.9" width="4.6" height="4.6" fill="#45b245"/><rect x="601.0" y="271.9" width="4.6" height="4.6" fill="#69c35e"/><rect x="605.5" y="271.9" width="4.6" height="4.6" fill="#9ede82"/><rect x="610.0" y="271.9" width="4.6" height="4.6" fill="#a0de83"/><rect x="614.5" y="271.9" width="4.6" height="4.6" fill="#dfdf9e"/><rect x="618.9" y="271.9" width="4.6" height="4.6" fill="#efbd84"/><rect x="623.4" y="271.9" width="4.6" height="4.6" fill="#ecad70"/><rect x="627.9" y="271.9" width="4.6" height="4.6" fill="#e89e5d"/><rect x="632.4" y="271.9" width="4.6" height="4.6" fill="#c48d44"/><rect x="636.9" y="271.9" width="4.6" height="4.6" fill="#c28d44"/><rect x="641.4" y="271.9" width="4.6" height="4.6" fill="#c3b168"/><rect x="645.9" y="271.9" width="4.6" height="4.6" fill="#c5bb70"/><rect x="650.4" y="271.9" width="4.6" height="4.6" fill="#d6d68c"/><rect x="654.9" y="271.9" width="4.6" height="4.6" fill="#c0cf7e"/><rect x="659.4" y="271.9" width="4.6" height="4.6" fill="#bacd7a"/><rect x="663.9" y="271.9" width="4.6" height="4.6" fill="#81bf66"/><rect x="668.4" y="271.9" width="4.6" height="4.6" fill="#72bb60"/><rect x="672.8" y="271.9" width="4.6" height="4.6" fill="#64b559"/><rect x="677.3" y="271.9" width="4.6" height="4.6" fill="#3fa946"/><rect x="681.8" y="271.9" width="4.6" height="4.6" fill="#3ea745"/><rect x="686.3" y="271.9" width="4.6" height="4.6" fill="#2f8e36"/><rect x="583.0" y="276.4" width="4.6" height="4.6" fill="#219a35"/><rect x="587.5" y="276.4" width="4.6" height="4.6" fill="#229a35"/><rect x="592.0" y="276.4" width="4.6" height="4.6" fill="#44b145"/><rect x="596.5" y="276.4" width="4.6" height="4.6" fill="#45b245"/><rect x="601.0" y="276.4" width="4.6" height="4.6" fill="#6bc45f"/><rect x="605.5" y="276.4" width="4.6" height="4.6" fill="#9ede82"/><rect x="610.0" y="276.4" width="4.6" height="4.6" fill="#a2de83"/><rect x="614.5" y="276.4" width="4.6" height="4.6" fill="#dede9d"/><rect x="618.9" y="276.4" width="4.6" height="4.6" fill="#eebd84"/><rect x="623.4" y="276.4" width="4.6" height="4.6" fill="#ebaa6d"/><rect x="627.9" y="276.4" width="4.6" height="4.6" fill="#e79d5c"/><rect x="632.4" y="276.4" width="4.6" height="4.6" fill="#c28a41"/><rect x="636.9" y="276.4" width="4.6" height="4.6" fill="#c08b42"/><rect x="641.4" y="276.4" width="4.6" height="4.6" fill="#c4b167"/><rect x="645.9" y="276.4" width="4.6" height="4.6" fill="#c8b96e"/><rect x="650.4" y="276.4" width="4.6" height="4.6" fill="#d3d288"/><rect x="654.9" y="276.4" width="4.6" height="4.6" fill="#9e9a4b"/><rect x="659.4" y="276.4" width="4.6" height="4.6" fill="#bacb79"/><rect x="663.9" y="276.4" width="4.6" height="4.6" fill="#8abe67"/><rect x="668.4" y="276.4" width="4.6" height="4.6" fill="#73bb60"/><rect x="672.8" y="276.4" width="4.6" height="4.6" fill="#68b85b"/><rect x="677.3" y="276.4" width="4.6" height="4.6" fill="#40aa46"/><rect x="681.8" y="276.4" width="4.6" height="4.6" fill="#3ea845"/><rect x="686.3" y="276.4" width="4.6" height="4.6" fill="#308f36"/><rect x="583.0" y="280.9" width="4.6" height="4.6" fill="#219a35"/><rect x="587.5" y="280.9" width="4.6" height="4.6" fill="#219a35"/><rect x="592.0" y="280.9" width="4.6" height="4.6" fill="#45b245"/><rect x="596.5" y="280.9" width="4.6" height="4.6" fill="#45b245"/><rect x="601.0" y="280.9" width="4.6" height="4.6" fill="#68c15c"/><rect x="605.5" y="280.9" width="4.6" height="4.6" fill="#95d67a"/><rect x="610.0" y="280.9" width="4.6" height="4.6" fill="#97d67a"/><rect x="614.5" y="280.9" width="4.6" height="4.6" fill="#d6cd8c"/><rect x="618.9" y="280.9" width="4.6" height="4.6" fill="#e7a05f"/><rect x="623.4" y="280.9" width="4.6" height="4.6" fill="#e39554"/><rect x="627.9" y="280.9" width="4.6" height="4.6" fill="#df8c4b"/><rect x="632.4" y="280.9" width="4.6" height="4.6" fill="#773700"/><rect x="636.9" y="280.9" width="4.6" height="4.6" fill="#7e3d02"/><rect x="641.4" y="280.9" width="4.6" height="4.6" fill="#c49f44"/><rect x="645.9" y="280.9" width="4.6" height="4.6" fill="#d6c370"/><rect x="650.4" y="280.9" width="4.6" height="4.6" fill="#a99745"/><rect x="654.9" y="280.9" width="4.6" height="4.6" fill="#766315"/><rect x="659.4" y="280.9" width="4.6" height="4.6" fill="#c4b272"/><rect x="663.9" y="280.9" width="4.6" height="4.6" fill="#a9ba6e"/><rect x="668.4" y="280.9" width="4.6" height="4.6" fill="#84c469"/><rect x="672.8" y="280.9" width="4.6" height="4.6" fill="#75bf62"/><rect x="677.3" y="280.9" width="4.6" height="4.6" fill="#45b24e"/><rect x="681.8" y="280.9" width="4.6" height="4.6" fill="#45b24e"/><rect x="686.3" y="280.9" width="4.6" height="4.6" fill="#3da946"/><rect x="583.0" y="285.4" width="4.6" height="4.6" fill="#219a35"/><rect x="587.5" y="285.4" width="4.6" height="4.6" fill="#229a36"/><rect x="592.0" y="285.4" width="4.6" height="4.6" fill="#43b144"/><rect x="596.5" y="285.4" width="4.6" height="4.6" fill="#45b245"/><rect x="601.0" y="285.4" width="4.6" height="4.6" fill="#69bf5c"/><rect x="605.5" y="285.4" width="4.6" height="4.6" fill="#96d17a"/><rect x="610.0" y="285.4" width="4.6" height="4.6" fill="#9cd07b"/><rect x="614.5" y="285.4" width="4.6" height="4.6" fill="#d1c786"/><rect x="618.9" y="285.4" width="4.6" height="4.6" fill="#dfa362"/><rect x="623.4" y="285.4" width="4.6" height="4.6" fill="#de9150"/><rect x="627.9" y="285.4" width="4.6" height="4.6" fill="#d88645"/><rect x="632.4" y="285.4" width="4.6" height="4.6" fill="#7d4004"/><rect x="636.9" y="285.4" width="4.6" height="4.6" fill="#87500e"/><rect x="641.4" y="285.4" width="4.6" height="4.6" fill="#bd993f"/><rect x="645.9" y="285.4" width="4.6" height="4.6" fill="#a1913f"/><rect x="650.4" y="285.4" width="4.6" height="4.6" fill="#968433"/><rect x="654.9" y="285.4" width="4.6" height="4.6" fill="#8d7625"/><rect x="659.4" y="285.4" width="4.6" height="4.6" fill="#c6b473"/><rect x="663.9" y="285.4" width="4.6" height="4.6" fill="#a7bc70"/><rect x="668.4" y="285.4" width="4.6" height="4.6" fill="#80c469"/><rect x="672.8" y="285.4" width="4.6" height="4.6" fill="#6fbf61"/><rect x="677.3" y="285.4" width="4.6" height="4.6" fill="#46b24f"/><rect x="681.8" y="285.4" width="4.6" height="4.6" fill="#45b14e"/><rect x="686.3" y="285.4" width="4.6" height="4.6" fill="#3da946"/><rect x="583.0" y="289.9" width="4.6" height="4.6" fill="#219a35"/><rect x="587.5" y="289.9" width="4.6" height="4.6" fill="#219a35"/><rect x="592.0" y="289.9" width="4.6" height="4.6" fill="#45b245"/><rect x="596.5" y="289.9" width="4.6" height="4.6" fill="#45b245"/><rect x="601.0" y="289.9" width="4.6" height="4.6" fill="#64b65a"/><rect x="605.5" y="289.9" width="4.6" height="4.6" fill="#95cc7a"/><rect x="610.0" y="289.9" width="4.6" height="4.6" fill="#97cc7a"/><rect x="614.5" y="289.9" width="4.6" height="4.6" fill="#cdc483"/><rect x="618.9" y="289.9" width="4.6" height="4.6" fill="#de9756"/><rect x="623.4" y="289.9" width="4.6" height="4.6" fill="#d68c4b"/><rect x="627.9" y="289.9" width="4.6" height="4.6" fill="#d58342"/><rect x="632.4" y="289.9" width="4.6" height="4.6" fill="#764104"/><rect x="636.9" y="289.9" width="4.6" height="4.6" fill="#7b4809"/><rect x="641.4" y="289.9" width="4.6" height="4.6" fill="#bb963b"/><rect x="645.9" y="289.9" width="4.6" height="4.6" fill="#655a0e"/><rect x="650.4" y="289.9" width="4.6" height="4.6" fill="#756617"/><rect x="654.9" y="289.9" width="4.6" height="4.6" fill="#88701d"/><rect x="659.4" y="289.9" width="4.6" height="4.6" fill="#cdbb7a"/><rect x="663.9" y="289.9" width="4.6" height="4.6" fill="#a3c172"/><rect x="668.4" y="289.9" width="4.6" height="4.6" fill="#7bc469"/><rect x="672.8" y="289.9" width="4.6" height="4.6" fill="#65c162"/><rect x="677.3" y="289.9" width="4.6" height="4.6" fill="#45b24e"/><rect x="681.8" y="289.9" width="4.6" height="4.6" fill="#45b24e"/><rect x="686.3" y="289.9" width="4.6" height="4.6" fill="#42ae4a"/><rect x="583.0" y="294.4" width="4.6" height="4.6" fill="#2e9a3e"/><rect x="587.5" y="294.4" width="4.6" height="4.6" fill="#2e9a3e"/><rect x="592.0" y="294.4" width="4.6" height="4.6" fill="#3da946"/><rect x="596.5" y="294.4" width="4.6" height="4.6" fill="#3da946"/><rect x="601.0" y="294.4" width="4.6" height="4.6" fill="#5ea156"/><rect x="605.5" y="294.4" width="4.6" height="4.6" fill="#649a59"/><rect x="610.0" y="294.4" width="4.6" height="4.6" fill="#6ea05d"/><rect x="614.5" y="294.4" width="4.6" height="4.6" fill="#658f51"/><rect x="618.9" y="294.4" width="4.6" height="4.6" fill="#749153"/><rect x="623.4" y="294.4" width="4.6" height="4.6" fill="#547637"/><rect x="627.9" y="294.4" width="4.6" height="4.6" fill="#577335"/><rect x="632.4" y="294.4" width="4.6" height="4.6" fill="#303e10"/><rect x="636.9" y="294.4" width="4.6" height="4.6" fill="#49521b"/><rect x="641.4" y="294.4" width="4.6" height="4.6" fill="#536427"/><rect x="645.9" y="294.4" width="4.6" height="4.6" fill="#859f58"/><rect x="650.4" y="294.4" width="4.6" height="4.6" fill="#93b568"/><rect x="654.9" y="294.4" width="4.6" height="4.6" fill="#a8d583"/><rect x="659.4" y="294.4" width="4.6" height="4.6" fill="#6fd06b"/><rect x="663.9" y="294.4" width="4.6" height="4.6" fill="#55d667"/><rect x="668.4" y="294.4" width="4.6" height="4.6" fill="#59c863"/><rect x="672.8" y="294.4" width="4.6" height="4.6" fill="#4dc45f"/><rect x="677.3" y="294.4" width="4.6" height="4.6" fill="#41b04c"/><rect x="681.8" y="294.4" width="4.6" height="4.6" fill="#3da946"/><rect x="686.3" y="294.4" width="4.6" height="4.6" fill="#3eaa47"/><rect x="587.5" y="298.9" width="4.6" height="4.6" fill="#2f9a3e"/><rect x="592.0" y="298.9" width="4.6" height="4.6" fill="#3aa444"/><rect x="596.5" y="298.9" width="4.6" height="4.6" fill="#43a946"/><rect x="601.0" y="298.9" width="4.6" height="4.6" fill="#6cac5e"/><rect x="605.5" y="298.9" width="4.6" height="4.6" fill="#8cae71"/><rect x="610.0" y="298.9" width="4.6" height="4.6" fill="#95b176"/><rect x="614.5" y="298.9" width="4.6" height="4.6" fill="#b9c68e"/><rect x="618.9" y="298.9" width="4.6" height="4.6" fill="#a8ba81"/><rect x="623.4" y="298.9" width="4.6" height="4.6" fill="#749757"/><rect x="627.9" y="298.9" width="4.6" height="4.6" fill="#6f9051"/><rect x="632.4" y="298.9" width="4.6" height="4.6" fill="#4c682d"/><rect x="636.9" y="298.9" width="4.6" height="4.6" fill="#6b974e"/><rect x="641.4" y="298.9" width="4.6" height="4.6" fill="#5c7c37"/><rect x="645.9" y="298.9" width="4.6" height="4.6" fill="#7cac5d"/><rect x="650.4" y="298.9" width="4.6" height="4.6" fill="#91c371"/><rect x="654.9" y="298.9" width="4.6" height="4.6" fill="#9ad982"/><rect x="659.4" y="298.9" width="4.6" height="4.6" fill="#61d269"/><rect x="663.9" y="298.9" width="4.6" height="4.6" fill="#51d163"/><rect x="668.4" y="298.9" width="4.6" height="4.6" fill="#4bc35a"/><rect x="672.8" y="298.9" width="4.6" height="4.6" fill="#49be5a"/><rect x="677.3" y="298.9" width="4.6" height="4.6" fill="#3ca946"/><rect x="681.8" y="298.9" width="4.6" height="4.6" fill="#3da946"/><rect x="686.3" y="298.9" width="4.6" height="4.6" fill="#3ca845"/><rect x="587.5" y="303.4" width="4.6" height="4.6" fill="#2e9a3e"/><rect x="592.0" y="303.4" width="4.6" height="4.6" fill="#359e40"/><rect x="596.5" y="303.4" width="4.6" height="4.6" fill="#46a946"/><rect x="601.0" y="303.4" width="4.6" height="4.6" fill="#75b462"/><rect x="605.5" y="303.4" width="4.6" height="4.6" fill="#bbc48d"/><rect x="610.0" y="303.4" width="4.6" height="4.6" fill="#bcc58d"/><rect x="614.5" y="303.4" width="4.6" height="4.6" fill="#c3cd95"/><rect x="618.9" y="303.4" width="4.6" height="4.6" fill="#bac88e"/><rect x="623.4" y="303.4" width="4.6" height="4.6" fill="#97bb7b"/><rect x="627.9" y="303.4" width="4.6" height="4.6" fill="#95bb7a"/><rect x="632.4" y="303.4" width="4.6" height="4.6" fill="#84c471"/><rect x="636.9" y="303.4" width="4.6" height="4.6" fill="#84c471"/><rect x="641.4" y="303.4" width="4.6" height="4.6" fill="#71c468"/><rect x="645.9" y="303.4" width="4.6" height="4.6" fill="#72c469"/><rect x="650.4" y="303.4" width="4.6" height="4.6" fill="#89dd80"/><rect x="654.9" y="303.4" width="4.6" height="4.6" fill="#8cdf82"/><rect x="659.4" y="303.4" width="4.6" height="4.6" fill="#53ce62"/><rect x="663.9" y="303.4" width="4.6" height="4.6" fill="#4ccd5f"/><rect x="668.4" y="303.4" width="4.6" height="4.6" fill="#37a941"/><rect x="672.8" y="303.4" width="4.6" height="4.6" fill="#2e9935"/><rect x="677.3" y="303.4" width="4.6" height="4.6" fill="#137716"/><rect x="681.8" y="303.4" width="4.6" height="4.6" fill="#177c1a"/><rect x="587.5" y="307.9" width="4.6" height="4.6" fill="#2e9a3e"/><rect x="592.0" y="307.9" width="4.6" height="4.6" fill="#2f9a3e"/><rect x="596.5" y="307.9" width="4.6" height="4.6" fill="#4fa946"/><rect x="601.0" y="307.9" width="4.6" height="4.6" fill="#60ad4e"/><rect x="605.5" y="307.9" width="4.6" height="4.6" fill="#e7cc8b"/><rect x="610.0" y="307.9" width="4.6" height="4.6" fill="#d7cc8b"/><rect x="614.5" y="307.9" width="4.6" height="4.6" fill="#cdcd8d"/><rect x="618.9" y="307.9" width="4.6" height="4.6" fill="#91af61"/><rect x="623.4" y="307.9" width="4.6" height="4.6" fill="#86aa5a"/><rect x="627.9" y="307.9" width="4.6" height="4.6" fill="#76c269"/><rect x="632.4" y="307.9" width="4.6" height="4.6" fill="#72c469"/><rect x="636.9" y="307.9" width="4.6" height="4.6" fill="#6bc367"/><rect x="641.4" y="307.9" width="4.6" height="4.6" fill="#4dc45f"/><rect x="645.9" y="307.9" width="4.6" height="4.6" fill="#51c460"/><rect x="650.4" y="307.9" width="4.6" height="4.6" fill="#41bd59"/><rect x="654.9" y="307.9" width="4.6" height="4.6" fill="#3cbb57"/><rect x="659.4" y="307.9" width="4.6" height="4.6" fill="#34af4b"/><rect x="663.9" y="307.9" width="4.6" height="4.6" fill="#2da946"/><rect x="668.4" y="307.9" width="4.6" height="4.6" fill="#2f9c38"/><rect x="672.8" y="307.9" width="4.6" height="4.6" fill="#2d9833"/><rect x="677.3" y="307.9" width="4.6" height="4.6" fill="#137615"/><rect x="681.8" y="307.9" width="4.6" height="4.6" fill="#137716"/><rect x="587.5" y="312.4" width="4.6" height="4.6" fill="#2f993e"/><rect x="592.0" y="312.4" width="4.6" height="4.6" fill="#2f983e"/><rect x="596.5" y="312.4" width="4.6" height="4.6" fill="#4ea846"/><rect x="601.0" y="312.4" width="4.6" height="4.6" fill="#64ac50"/><rect x="605.5" y="312.4" width="4.6" height="4.6" fill="#e3cb89"/><rect x="610.0" y="312.4" width="4.6" height="4.6" fill="#c4c581"/><rect x="614.5" y="312.4" width="4.6" height="4.6" fill="#c9cb8a"/><rect x="618.9" y="312.4" width="4.6" height="4.6" fill="#88aa59"/><rect x="623.4" y="312.4" width="4.6" height="4.6" fill="#85a958"/><rect x="627.9" y="312.4" width="4.6" height="4.6" fill="#6bbe64"/><rect x="632.4" y="312.4" width="4.6" height="4.6" fill="#71c468"/><rect x="636.9" y="312.4" width="4.6" height="4.6" fill="#4cb957"/><rect x="641.4" y="312.4" width="4.6" height="4.6" fill="#4cc35e"/><rect x="645.9" y="312.4" width="4.6" height="4.6" fill="#49c05c"/><rect x="650.4" y="312.4" width="4.6" height="4.6" fill="#36b350"/><rect x="654.9" y="312.4" width="4.6" height="4.6" fill="#3bba56"/><rect x="659.4" y="312.4" width="4.6" height="4.6" fill="#2fa13f"/><rect x="663.9" y="312.4" width="4.6" height="4.6" fill="#2da744"/><rect x="668.4" y="312.4" width="4.6" height="4.6" fill="#2d9835"/><rect x="672.8" y="312.4" width="4.6" height="4.6" fill="#2e9935"/><rect x="677.3" y="312.4" width="4.6" height="4.6" fill="#238b28"/><rect x="592.0" y="316.9" width="4.6" height="4.6" fill="#2f8e3f"/><rect x="596.5" y="316.9" width="4.6" height="4.6" fill="#379241"/><rect x="601.0" y="316.9" width="4.6" height="4.6" fill="#61a94f"/><rect x="605.5" y="316.9" width="4.6" height="4.6" fill="#93b668"/><rect x="610.0" y="316.9" width="4.6" height="4.6" fill="#a9bb72"/><rect x="614.5" y="316.9" width="4.6" height="4.6" fill="#91b061"/><rect x="618.9" y="316.9" width="4.6" height="4.6" fill="#87a958"/><rect x="623.4" y="316.9" width="4.6" height="4.6" fill="#72b35c"/><rect x="627.9" y="316.9" width="4.6" height="4.6" fill="#60bb60"/><rect x="632.4" y="316.9" width="4.6" height="4.6" fill="#5ebb5f"/><rect x="636.9" y="316.9" width="4.6" height="4.6" fill="#3cb24e"/><rect x="641.4" y="316.9" width="4.6" height="4.6" fill="#3cb24e"/><rect x="645.9" y="316.9" width="4.6" height="4.6" fill="#31aa48"/><rect x="650.4" y="316.9" width="4.6" height="4.6" fill="#2da946"/><rect x="654.9" y="316.9" width="4.6" height="4.6" fill="#2da240"/><rect x="659.4" y="316.9" width="4.6" height="4.6" fill="#2e9735"/><rect x="663.9" y="316.9" width="4.6" height="4.6" fill="#248a2e"/><rect x="668.4" y="316.9" width="4.6" height="4.6" fill="#22882d"/><rect x="672.8" y="316.9" width="4.6" height="4.6" fill="#289031"/><rect x="592.0" y="321.4" width="4.6" height="4.6" fill="#308c3f"/><rect x="596.5" y="321.4" width="4.6" height="4.6" fill="#30883f"/><rect x="601.0" y="321.4" width="4.6" height="4.6" fill="#51a14b"/><rect x="605.5" y="321.4" width="4.6" height="4.6" fill="#51a950"/><rect x="610.0" y="321.4" width="4.6" height="4.6" fill="#7bb361"/><rect x="614.5" y="321.4" width="4.6" height="4.6" fill="#58b258"/><rect x="618.9" y="321.4" width="4.6" height="4.6" fill="#5eb158"/><rect x="623.4" y="321.4" width="4.6" height="4.6" fill="#58b359"/><rect x="627.9" y="321.4" width="4.6" height="4.6" fill="#50b358"/><rect x="632.4" y="321.4" width="4.6" height="4.6" fill="#50b358"/><rect x="636.9" y="321.4" width="4.6" height="4.6" fill="#36a348"/><rect x="641.4" y="321.4" width="4.6" height="4.6" fill="#35a247"/><rect x="645.9" y="321.4" width="4.6" height="4.6" fill="#30983d"/><rect x="650.4" y="321.4" width="4.6" height="4.6" fill="#2f9037"/><rect x="654.9" y="321.4" width="4.6" height="4.6" fill="#23882e"/><rect x="659.4" y="321.4" width="4.6" height="4.6" fill="#248a2e"/><rect x="663.9" y="321.4" width="4.6" height="4.6" fill="#268d30"/><rect x="596.5" y="325.9" width="4.6" height="4.6" fill="#30883f"/><rect x="601.0" y="325.9" width="4.6" height="4.6" fill="#3e9646"/><rect x="605.5" y="325.9" width="4.6" height="4.6" fill="#4fa94f"/><rect x="610.0" y="325.9" width="4.6" height="4.6" fill="#52ab51"/><rect x="614.5" y="325.9" width="4.6" height="4.6" fill="#57b257"/><rect x="618.9" y="325.9" width="4.6" height="4.6" fill="#56b156"/><rect x="623.4" y="325.9" width="4.6" height="4.6" fill="#4fb157"/><rect x="627.9" y="325.9" width="4.6" height="4.6" fill="#4eb257"/><rect x="632.4" y="325.9" width="4.6" height="4.6" fill="#4cb156"/><rect x="636.9" y="325.9" width="4.6" height="4.6" fill="#35a047"/><rect x="641.4" y="325.9" width="4.6" height="4.6" fill="#35a046"/><rect x="645.9" y="325.9" width="4.6" height="4.6" fill="#309239"/><rect x="650.4" y="325.9" width="4.6" height="4.6" fill="#2f8e36"/><rect x="654.9" y="325.9" width="4.6" height="4.6" fill="#24892f"/><rect x="659.4" y="325.9" width="4.6" height="4.6" fill="#23882e"/><rect x="596.5" y="330.4" width="4.6" height="4.6" fill="#328940"/><rect x="601.0" y="330.4" width="4.6" height="4.6" fill="#409847"/><rect x="605.5" y="330.4" width="4.6" height="4.6" fill="#4ea84e"/><rect x="610.0" y="330.4" width="4.6" height="4.6" fill="#48a64c"/><rect x="614.5" y="330.4" width="4.6" height="4.6" fill="#319b40"/><rect x="618.9" y="330.4" width="4.6" height="4.6" fill="#2f9a3e"/><rect x="623.4" y="330.4" width="4.6" height="4.6" fill="#369f43"/><rect x="627.9" y="330.4" width="4.6" height="4.6" fill="#4cb055"/><rect x="632.4" y="330.4" width="4.6" height="4.6" fill="#48ae53"/><rect x="636.9" y="330.4" width="4.6" height="4.6" fill="#37a248"/><rect x="641.4" y="330.4" width="4.6" height="4.6" fill="#35a046"/><rect x="645.9" y="330.4" width="4.6" height="4.6" fill="#31953b"/><rect x="650.4" y="330.4" width="4.6" height="4.6" fill="#2e8f36"/><rect x="601.0" y="334.9" width="4.6" height="4.6" fill="#429a47"/><rect x="605.5" y="334.9" width="4.6" height="4.6" fill="#439f47"/><rect x="610.0" y="334.9" width="4.6" height="4.6" fill="#31973c"/><rect x="614.5" y="334.9" width="4.6" height="4.6" fill="#2d983c"/><rect x="618.9" y="334.9" width="4.6" height="4.6" fill="#2e993d"/><rect x="623.4" y="334.9" width="4.6" height="4.6" fill="#2d963b"/><rect x="627.9" y="334.9" width="4.6" height="4.6" fill="#389e43"/><rect x="632.4" y="334.9" width="4.6" height="4.6" fill="#42a74c"/><rect x="636.9" y="334.9" width="4.6" height="4.6" fill="#3ba349"/><rect x="610.0" y="339.4" width="4.6" height="4.6" fill="#268c31"/><rect x="614.5" y="339.4" width="4.6" height="4.6" fill="#23882e"/><rect x="618.9" y="339.4" width="4.6" height="4.6" fill="#22882d"/><rect x="623.4" y="339.4" width="4.6" height="4.6" fill="#24892f"/><rect x="576.2" y="31" width="4.3" height="13.5" fill="#fcfcfc"/><rect x="548.4" y="65.2" width="32.1" height="37" fill="url(#dk)"/><rect x="580.4" y="98" width="4.3" height="8.8" fill="#5a9a60"/><rect x="576.1" y="106.6" width="4.3" height="4.3" fill="#6aa870"/><rect x="577.4" y="222" width="3.6" height="9.2" fill="#f4f8fc"/><rect x="573.3" y="218.8" width="4.1" height="4.2" fill="#b4dcec"/></g>
<path d="M461.2 201.3 L462.2 197.0 L464.5 193.0 L468.0 190.5 L476.0 186.0 L485.0 181.5 L492.6 178.4 L499.0 175.8 L504.0 173.3 L507.5 170.0 L508.5 166.0 L508.3 161.0 L509.6 155.0 L512.7 149.0 L516.5 143.5 L520.0 140.0 L523.8 136.5 L528.8 133.0 L536.4 128.6 L543.9 125.3 L550.0 123.5 L560.0 123.0 L585.0 123.3 L602.0 123.2 L610.0 122.0 L616.0 120.8 L622.0 119.2 L628.0 116.8 L632.5 114.0 L638.5 110.8 L645.0 108.0 L652.0 106.2 L660.0 104.8 L668.0 104.0 L677.5 103.8 L686.0 104.3 L695.0 105.5 L704.0 107.5 L712.5 110.0 L720.0 113.0 L727.5 116.3 L734.0 119.5 L740.0 122.8 L745.0 126.5 L750.0 130.0 L757.5 133.8 L766.0 136.3 L775.0 138.8 L783.0 142.0 L790.0 145.0 L800.0 150.0 L808.8 155.0 L812.0 157.0 L812.0 266.0 L808.8 264.5 L802.5 261.3 L795.0 257.5 L790.0 253.0 L787.5 251.3 L780.0 249.5 L774.0 244.0 L767.5 238.8 L762.0 234.0 L756.3 230.0 L750.0 228.3 L745.0 227.0 L739.0 225.0 L733.8 223.8 L728.0 226.0 L722.5 228.8 L716.0 231.0 L710.0 232.5 L702.0 234.7 L695.0 236.3 L685.0 237.2 L675.0 237.0 L665.0 235.8 L655.0 233.3 L647.0 229.5 L640.0 224.5 L632.0 220.0 L625.0 216.3 L618.0 213.0 L612.5 211.3 L606.0 210.0 L600.0 210.0 L593.0 210.8 L587.5 212.0 L583.0 214.5 L580.0 216.3 L575.0 218.0 L570.0 218.8 L562.0 219.5 L555.0 219.5 L547.0 218.7 L540.0 217.5 L535.0 215.8 L530.0 213.8 L526.0 210.0 L522.5 207.0 L517.5 207.0 L512.0 209.5 L507.5 211.3 L502.0 214.0 L497.5 216.3 L491.0 218.5 L485.0 220.0 L480.0 220.0 L476.0 218.5 L472.5 216.3 L468.5 214.0 L465.0 211.3 L462.5 207.0 L461.2 201.3Z" fill="#6fdb00"/>
<path d="M348.5 27.0 L351.0 32.0 L355.0 38.0 L358.0 44.0 L361.3 49.3 L364.0 55.0 L366.3 60.5 L369.0 69.0 L372.5 78.0 L375.5 86.0 L378.8 94.3 L382.0 102.0 L385.0 110.5 L387.5 117.0 L390.0 123.5 L392.5 138.0 L394.5 147.0 L396.3 155.5 L399.0 164.0 L402.5 171.8 L406.3 181.0 L410.0 186.0 L415.0 190.5 L420.0 197.0 L425.0 203.0 L430.0 209.0 L435.0 214.3 L440.0 218.5 L445.0 221.8 L449.0 224.0 L453.8 225.5 L457.0 226.8 L460.0 226.5 L463.5 224.0 L467.5 221.0 L472.0 218.5 L477.5 216.8 L481.5 214.0 L485.0 210.5 L488.0 205.0 L490.7 197.9 L491.3 194.1 L493.2 189.7 L492.5 186.0 L493.8 182.8 L497.6 177.7 L503.9 173.3 L510.2 170.8 L516.5 170.2 L520.3 167.7 L527.8 165.1 L535.4 163.3 L542.9 162.6 L548.6 162.4 L544.0 161.3 L540.4 160.7 L535.4 156.3 L532.9 151.3 L534.5 146.0 L538.9 139.0 L543.3 132.8 L546.4 127.7 L550.2 123.3 L552.7 121.4 L550.2 117.7 L550.8 113.9 L553.4 110.7 L557.8 107.6 L562.8 105.7 L567.0 106.2 L570.3 105.7 L575.4 105.0 L579.0 106.5 L581.7 107.6 L585.4 107.6 L585.6 103.0 L585.0 95.0 L584.6 80.0 L584.8 70.0 L584.2 60.0 L583.5 50.0 L582.5 44.0 L581.0 38.0 L580.5 32.0 L580.5 27.0" fill="none" stroke="#000" stroke-width="1" stroke-linejoin="round"/>
<path d="M641.1 172.2 L644.0 177.0 L647.5 182.5 L652.0 188.0 L657.5 195.0 L658.5 200.0 L656.0 203.0 L657.0 206.5 L660.0 206.0 L661.5 203.5 L664.0 204.0 L666.0 208.0 L667.5 214.0 L668.8 220.0 L671.5 227.0 L675.0 233.8 L677.0 237.0 L681.0 241.0 L685.0 247.5 L688.5 255.0 L691.3 262.5 L692.5 270.0 L693.0 278.0 L693.0 285.0 L692.0 293.0 L690.0 300.0 L688.0 305.0 L685.0 310.0 L681.0 314.0 L676.3 317.5 L671.0 321.5 L665.0 325.0 L659.0 328.5 L652.5 331.3 L645.0 334.0 L637.5 336.3 L631.0 339.5 L625.0 341.3 L618.0 341.2 L612.5 340.0 L606.0 336.5 L600.0 331.3 L596.0 326.0 L592.5 320.0 L590.5 312.0 L588.8 305.0 L586.5 297.0 L584.5 288.8 L583.8 280.0 L583.3 272.0 L582.0 265.0 L580.5 258.0 L580.0 252.5 L578.8 242.5 L577.0 236.0 L576.0 230.0 L576.5 224.0 L577.5 220.0 L581.0 213.8 L583.0 209.0 L584.5 205.0 L586.0 200.0 L587.0 195.0 L588.8 183.8 L590.5 179.5 L592.7 177.2 L595.2 175.3 L597.7 171.6 L599.0 166.5 L597.7 161.5 L595.2 158.4 L597.1 155.2 L601.5 152.1 L602.1 148.9 L599.0 145.8 L595.8 143.9 L592.7 141.4 L588.3 139.5 L587.0 137.0 L588.9 134.4 L595.2 133.2 L604.0 132.3 L606.5 133.8 L607.8 137.6 L612.8 142.6 L620.3 148.9 L627.9 155.2 L634.2 160.2 L638.0 165.3 L639.2 169.0 L641.1 172.2" fill="none" stroke="#000" stroke-width="1" stroke-linejoin="round"/>
<path d="M595.8 142.6 L602.7 142.6 L607.8 145.1 L613.4 149.5 L612.2 152.1 L607.8 153.3 L605.9 150.2 L602.1 148.3 L599.0 145.8" fill="none" stroke="#000" stroke-width="1" stroke-linejoin="round"/>
<path d="M367.3 59.8 l2.3 -0.4 l-1 2.2z" fill="#000"/>
<path d="M372.6 80.0 l2.3 -0.4 l-1 2.2z" fill="#000"/>
<path d="M378.6 94.0 l2.3 -0.4 l-1 2.2z" fill="#000"/>
<path d="M386.1 113.2 l2.3 -0.4 l-1 2.2z" fill="#000"/>
<path d="M390.2 123.4 l2.3 -0.4 l-1 2.2z" fill="#000"/>
<path d="M397.6 160.2 l2.3 -0.4 l-1 2.2z" fill="#000"/>
<path d="M401.2 168.8 l2.3 -0.4 l-1 2.2z" fill="#000"/>
<path d="M428.8 208.8 l2.3 -0.4 l-1 2.2z" fill="#000"/>
<path d="M493.0 189.6 l2.3 -0.4 l-1 2.2z" fill="#000"/>
<path d="M492.2 194.5 l2.3 -0.4 l-1 2.2z" fill="#000"/>
<path d="M406.2 180.6 L412.2 178.4" stroke="#000" stroke-width="2" stroke-linecap="round"/>
<path d="M577.6 219.6 L581 213.5 M580.6 214 L581.2 230.5 L578 231" stroke="#000" stroke-width="0.8" fill="none"/>
<path d="M52.5 28.6 V393.3 M160.5 28.6 V393.3 M268.5 28.6 V393.3 M376.5 28.6 V393.3 M484.5 28.6 V393.3 M592.5 28.6 V393.3 M699.5 28.6 V393.3 M807.5 28.6 V393.3 M42.8 339.5 H809.3 M42.8 231.5 H809.3 M42.8 123.5 H809.3" stroke="#1c2c3c" stroke-opacity="0.23" stroke-width="1" fill="none"/>
<path d="M52.5 28.6 V393.3 M160.5 28.6 V393.3 M268.5 28.6 V393.3 M376.5 28.6 V393.3 M484.5 28.6 V393.3 M592.5 28.6 V393.3 M699.5 28.6 V393.3 M807.5 28.6 V393.3 M42.8 339.5 H809.3 M42.8 231.5 H809.3 M42.8 123.5 H809.3" stroke="#1c2c3c" stroke-opacity="0.18" stroke-width="1" stroke-dasharray="3.7 1" fill="none"/>
<path d="M485.0 210.3 L544.2 183.4 L581.5 172.1 L641.4 172.2 L727.6 183.2 L811.0 224.5" fill="none" stroke="#000" stroke-width="3.1" stroke-dasharray="10.4 4.4" stroke-dashoffset="3.4"/>
<path d="M485.0 204.0 l3.9 6.3 l-3.9 6.3 l-3.9 -6.3z" fill="#000"/>
<path d="M485.0 208.3 l1.4 2 l-1.4 2 l-1.4 -2z" fill="#fff"/>
<path d="M544.2 177.1 l3.9 6.3 l-3.9 6.3 l-3.9 -6.3z" fill="#000"/>
<path d="M544.2 181.4 l1.4 2 l-1.4 2 l-1.4 -2z" fill="#fff"/>
<path d="M581.5 165.8 l3.9 6.3 l-3.9 6.3 l-3.9 -6.3z" fill="#000"/>
<path d="M581.5 170.1 l1.4 2 l-1.4 2 l-1.4 -2z" fill="#fff"/>
<path d="M641.4 165.9 l3.9 6.3 l-3.9 6.3 l-3.9 -6.3z" fill="#000"/>
<path d="M641.4 170.2 l1.4 2 l-1.4 2 l-1.4 -2z" fill="#fff"/>
<path d="M727.6 176.9 l3.9 6.3 l-3.9 6.3 l-3.9 -6.3z" fill="#000"/>
<path d="M727.6 181.2 l1.4 2 l-1.4 2 l-1.4 -2z" fill="#fff"/>
<circle cx="584.5" cy="288.8" r="2" fill="#000"/>
<text x="562.3" y="275.8" font-size="10.8" textLength="43" lengthAdjust="spacingAndGlyphs" fill="#000" style="filter:grayscale(1)">Colombo</text>
</g>
<rect x="42.8" y="28.6" width="766.5" height="364.7" fill="none" stroke="#000" stroke-width="1.3"/>
<path d="M804.6 222.6 L810.3 221.6 L810.3 234.6 L807 234.2 L808.4 229 L806.6 226 Z" fill="#fff"/>
<path d="M804.4 222.4 L808.6 221.9 M806.8 234.3 L808.8 234.6" stroke="#000" stroke-width="1.2" fill="none"/>
<rect x="817.5" y="324.0" width="15.0" height="69.5" fill="#6fdb00"/>
<rect x="817.5" y="254.5" width="15.0" height="69.5" fill="#fff700"/>
<rect x="817.5" y="185.0" width="15.0" height="69.5" fill="#ff9a0a"/>
<rect x="817.5" y="115.5" width="15.0" height="69.5" fill="#ff5f22"/>
<rect x="817.5" y="46.0" width="15.0" height="69.5" fill="#cc3200"/>
<path d="M817.5 46.0 L825.0 28 L832.5 46.0 Z" fill="#7f0000"/>
<path d="M817.5 393.5 V46.0 L825.0 28 L832.5 46.0 V393.5 Z" fill="none" stroke="#000" stroke-width="1"/>
<path d="M832.5 391.5 h6" stroke="#000" stroke-width="0.9"/>
<path d="M832.5 323.5 h6" stroke="#000" stroke-width="0.9"/>
<path d="M832.5 253.5 h6" stroke="#000" stroke-width="0.9"/>
<path d="M832.5 184.5 h6" stroke="#000" stroke-width="0.9"/>
<path d="M832.5 115.5 h6" stroke="#000" stroke-width="0.9"/>
<path d="M832.5 45.5 h6" stroke="#000" stroke-width="0.9"/>
<g style="filter:grayscale(1)"><text x="54.2" y="409.3" font-size="11" text-anchor="middle" textLength="21.9" lengthAdjust="spacingAndGlyphs" fill="#000">70°E</text><text x="162.0" y="409.3" font-size="11" text-anchor="middle" textLength="21.9" lengthAdjust="spacingAndGlyphs" fill="#000">72°E</text><text x="269.8" y="409.3" font-size="11" text-anchor="middle" textLength="21.9" lengthAdjust="spacingAndGlyphs" fill="#000">74°E</text><text x="377.6" y="409.3" font-size="11" text-anchor="middle" textLength="21.9" lengthAdjust="spacingAndGlyphs" fill="#000">76°E</text><text x="485.4" y="409.3" font-size="11" text-anchor="middle" textLength="21.9" lengthAdjust="spacingAndGlyphs" fill="#000">78°E</text><text x="593.2" y="409.3" font-size="11" text-anchor="middle" textLength="21.9" lengthAdjust="spacingAndGlyphs" fill="#000">80°E</text><text x="701.0" y="409.3" font-size="11" text-anchor="middle" textLength="21.9" lengthAdjust="spacingAndGlyphs" fill="#000">82°E</text><text x="808.8" y="409.3" font-size="11" text-anchor="middle" textLength="21.9" lengthAdjust="spacingAndGlyphs" fill="#000">84°E</text><text x="34" y="343.0" font-size="11" text-anchor="end" textLength="17.8" lengthAdjust="spacingAndGlyphs" fill="#000">6°N</text><text x="34" y="235.0" font-size="11" text-anchor="end" textLength="17.8" lengthAdjust="spacingAndGlyphs" fill="#000">8°N</text><text x="34" y="126.9" font-size="11" text-anchor="end" textLength="24.0" lengthAdjust="spacingAndGlyphs" fill="#000">10°N</text><text x="319.3" y="19.8" font-size="13.2" textLength="53.8" lengthAdjust="spacingAndGlyphs" fill="#000">OVERALL</text><text x="377.0" y="19.8" font-size="13.2" textLength="54.8" lengthAdjust="spacingAndGlyphs" fill="#000">(Forecast</text><text x="435.2" y="19.8" font-size="13.2" textLength="11.0" lengthAdjust="spacingAndGlyphs" fill="#000">of</text><text x="450.0" y="19.8" font-size="13.2" textLength="82.6" lengthAdjust="spacingAndGlyphs" fill="#000">20201201.18)</text><text x="842.6" y="395.1" font-size="11" textLength="11.1" lengthAdjust="spacingAndGlyphs" fill="#000">18</text><text x="842.6" y="327.6" font-size="11" textLength="11.1" lengthAdjust="spacingAndGlyphs" fill="#000">33</text><text x="842.6" y="258.1" font-size="11" textLength="11.1" lengthAdjust="spacingAndGlyphs" fill="#000">43</text><text x="842.6" y="188.6" font-size="11" textLength="11.1" lengthAdjust="spacingAndGlyphs" fill="#000">49</text><text x="842.6" y="119.1" font-size="11" textLength="11.1" lengthAdjust="spacingAndGlyphs" fill="#000">58</text><text x="842.6" y="49.6" font-size="11" textLength="11.1" lengthAdjust="spacingAndGlyphs" fill="#000">70</text><text transform="translate(867.3 211.2) rotate(-90)" font-size="11" text-anchor="middle" textLength="112.6" lengthAdjust="spacingAndGlyphs" fill="#000">10 m wind speed (m/s)</text></g>
</svg>
</body></html>
